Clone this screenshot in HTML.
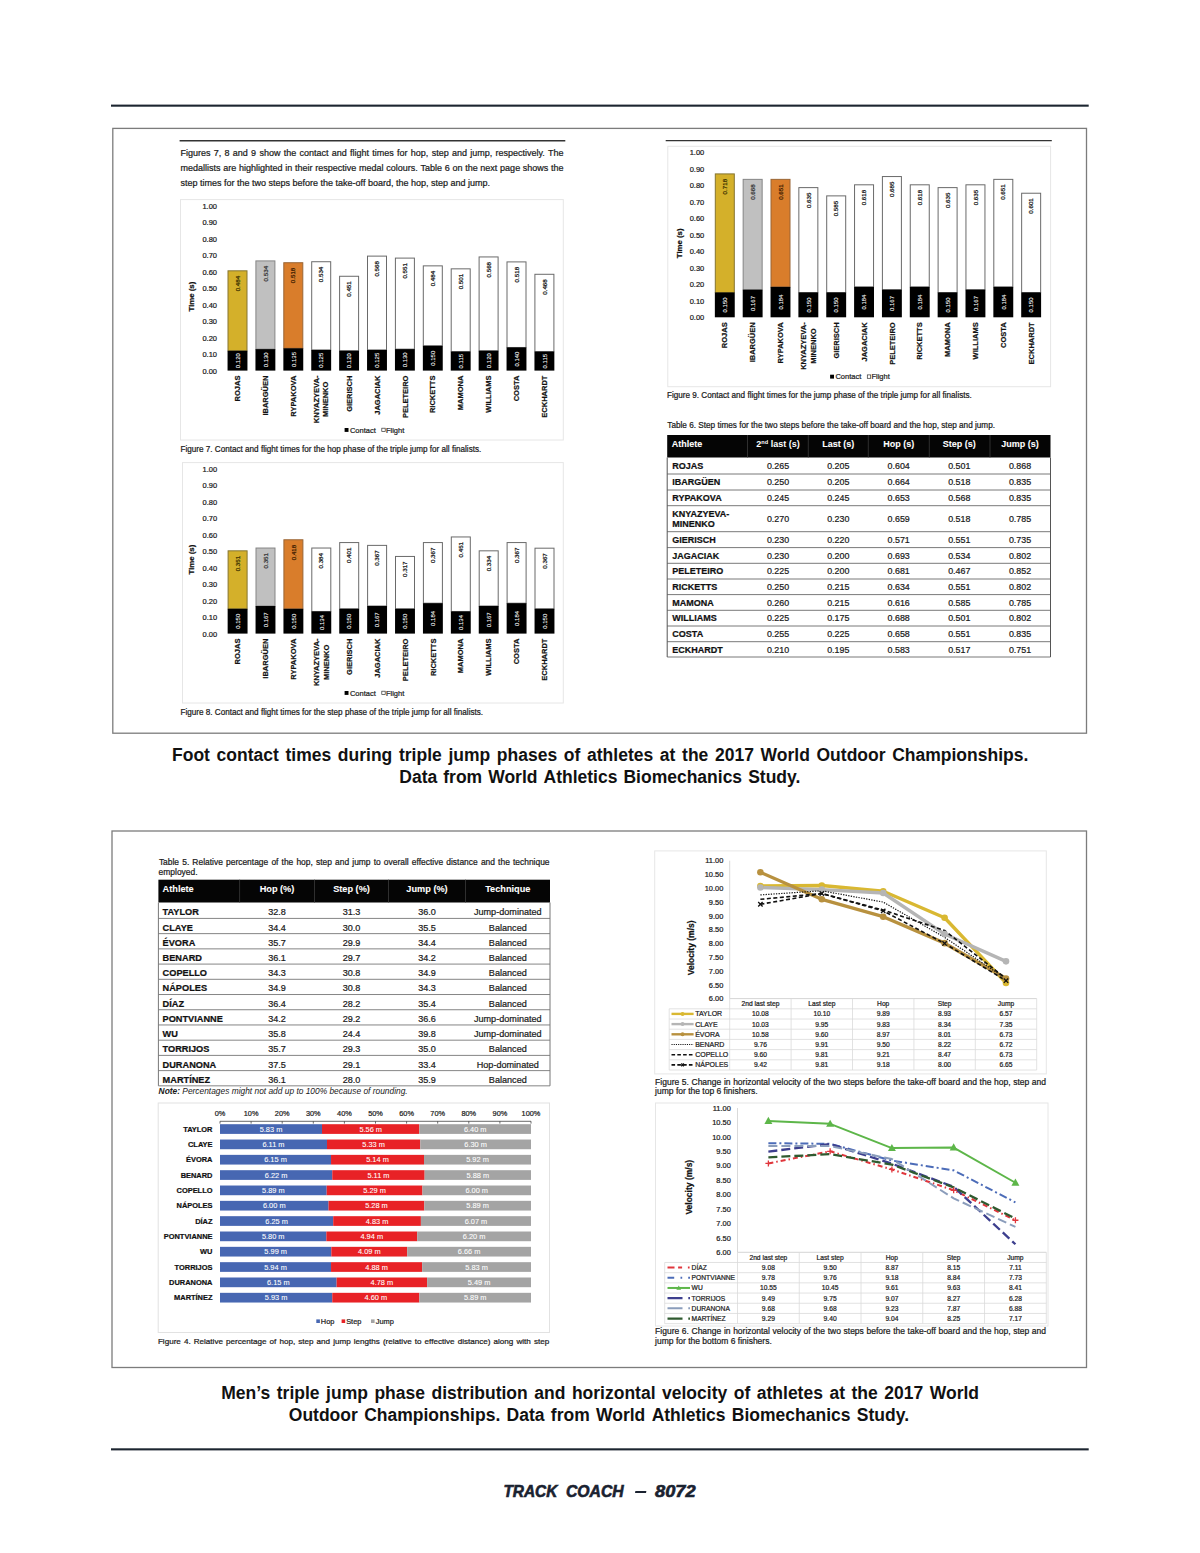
<!DOCTYPE html>
<html><head><meta charset="utf-8"><title>Track Coach 8072</title>
<style>
html,body{margin:0;padding:0;background:#fff;}
body{width:1200px;height:1553px;overflow:hidden;font-family:"Liberation Sans", sans-serif;}
svg{display:block;}
svg text{font-family:"Liberation Sans", sans-serif;}
</style></head><body>
<svg width="1200" height="1553" viewBox="0 0 1200 1553">
<rect width="1200" height="1553" fill="#fff"/>
<rect x="111.00" y="104.60" width="977.70" height="2.10" fill="#1c2530"/>
<rect x="112.80" y="128.40" width="973.70" height="604.80" fill="none" stroke="#7c7c7c" stroke-width="1.3"/>
<text y="760.80" font-size="17.5" font-weight="bold" fill="#111"><tspan x="172.00">Foot</tspan><tspan x="216.56">contact</tspan><tspan x="285.46">times</tspan><tspan x="337.85">during</tspan><tspan x="398.95">triple</tspan><tspan x="448.40">jump</tspan><tspan x="496.87">phases</tspan><tspan x="563.85">of</tspan><tspan x="587.04">athletes</tspan><tspan x="659.84">at</tspan><tspan x="682.07">the</tspan><tspan x="714.99">2017</tspan><tspan x="760.59">World</tspan><tspan x="816.51">Outdoor</tspan><tspan x="892.19">Championships.</tspan></text>
<text y="782.50" font-size="17.5" font-weight="bold" fill="#111"><tspan x="399.30">Data</tspan><tspan x="443.27">from</tspan><tspan x="488.20">World</tspan><tspan x="543.50">Athletics</tspan><tspan x="623.44">Biomechanics</tspan><tspan x="748.13">Study.</tspan></text>
<rect x="112.00" y="831.00" width="974.50" height="536.50" fill="none" stroke="#7c7c7c" stroke-width="1.3"/>
<text y="1399.30" font-size="17.5" font-weight="bold" fill="#111"><tspan x="221.30">Men’s</tspan><tspan x="276.77">triple</tspan><tspan x="326.08">jump</tspan><tspan x="374.41">phase</tspan><tspan x="431.51">distribution</tspan><tspan x="534.27">and</tspan><tspan x="571.90">horizontal</tspan><tspan x="662.03">velocity</tspan><tspan x="733.73">of</tspan><tspan x="756.77">athletes</tspan><tspan x="829.43">at</tspan><tspan x="851.52">the</tspan><tspan x="884.29">2017</tspan><tspan x="929.75">World</tspan></text>
<text y="1420.50" font-size="17.5" font-weight="bold" fill="#111"><tspan x="288.80">Outdoor</tspan><tspan x="364.13">Championships.</tspan><tspan x="506.57">Data</tspan><tspan x="550.83">from</tspan><tspan x="596.05">World</tspan><tspan x="651.63">Athletics</tspan><tspan x="731.85">Biomechanics</tspan><tspan x="856.83">Study.</tspan></text>
<rect x="111.00" y="1448.30" width="977.70" height="2.10" fill="#1c2530"/>
<text x="0" y="0" font-size="15.8" font-weight="bold" font-style="italic" fill="#1a2230" stroke="#1a2230" stroke-width="0.6" transform="translate(503.40 1496.5) scale(0.977 1)">TRACK</text>
<text x="0" y="0" font-size="15.8" font-weight="bold" font-style="italic" fill="#1a2230" stroke="#1a2230" stroke-width="0.6" transform="translate(566.00 1496.5) scale(0.998 1)">COACH</text>
<text x="0" y="0" font-size="15.8" font-weight="bold" font-style="italic" fill="#1a2230" stroke="#1a2230" stroke-width="0.6" transform="translate(655.00 1496.5) scale(1.155 1)">8072</text>
<path d="M635.4 1490.9 L646.4 1490.9 L646.0 1493.0 L635.0 1493.0 Z" fill="#1a2230"/>
<line x1="179.60" y1="140.80" x2="565.30" y2="140.80" stroke="#333" stroke-width="1.4"/>
<text y="155.70" font-size="9" fill="#1a1a1a" stroke="#1a1a1a" stroke-width="0.22"><tspan x="180.50">Figures</tspan><tspan x="213.78">7,</tspan><tspan x="224.55">8</tspan><tspan x="232.83">and</tspan><tspan x="251.11">9</tspan><tspan x="259.39">show</tspan><tspan x="283.67">the</tspan><tspan x="299.45">contact</tspan><tspan x="331.74">and</tspan><tspan x="350.02">flight</tspan><tspan x="372.30">times</tspan><tspan x="397.07">for</tspan><tspan x="410.85">hop,</tspan><tspan x="431.63">step</tspan><tspan x="451.91">and</tspan><tspan x="470.20">jump,</tspan><tspan x="495.47">respectively.</tspan><tspan x="548.09">The</tspan></text>
<text y="171.00" font-size="9" fill="#1a1a1a" stroke="#1a1a1a" stroke-width="0.22"><tspan x="180.50">medallists</tspan><tspan x="223.24">are</tspan><tspan x="238.97">highlighted</tspan><tspan x="285.23">in</tspan><tspan x="294.96">their</tspan><tspan x="315.20">respective</tspan><tspan x="358.94">medal</tspan><tspan x="386.18">colours.</tspan><tspan x="420.42">Table</tspan><tspan x="444.66">6</tspan><tspan x="452.39">on</tspan><tspan x="465.13">the</tspan><tspan x="480.37">next</tspan><tspan x="500.11">page</tspan><tspan x="522.85">shows</tspan><tspan x="551.09">the</tspan></text>
<text x="180.50" y="186.00" font-size="9" stroke="#1a1a1a" stroke-width="0.22" fill="#1a1a1a">step times for the two steps before the take-off board, the hop, step and jump.</text>
<line x1="665.70" y1="140.60" x2="1051.80" y2="140.60" stroke="#333" stroke-width="1.4"/>
<rect x="180.50" y="199.60" width="382.80" height="240.40" fill="#fff" stroke="#e6e6e6" stroke-width="1"/>
<text x="217.00" y="373.70" font-size="7.5" stroke="#1a1a1a" stroke-width="0.22" text-anchor="end" fill="#1a1a1a">0.00</text>
<text x="217.00" y="357.18" font-size="7.5" stroke="#1a1a1a" stroke-width="0.22" text-anchor="end" fill="#1a1a1a">0.10</text>
<text x="217.00" y="340.66" font-size="7.5" stroke="#1a1a1a" stroke-width="0.22" text-anchor="end" fill="#1a1a1a">0.20</text>
<text x="217.00" y="324.14" font-size="7.5" stroke="#1a1a1a" stroke-width="0.22" text-anchor="end" fill="#1a1a1a">0.30</text>
<text x="217.00" y="307.62" font-size="7.5" stroke="#1a1a1a" stroke-width="0.22" text-anchor="end" fill="#1a1a1a">0.40</text>
<text x="217.00" y="291.10" font-size="7.5" stroke="#1a1a1a" stroke-width="0.22" text-anchor="end" fill="#1a1a1a">0.50</text>
<text x="217.00" y="274.58" font-size="7.5" stroke="#1a1a1a" stroke-width="0.22" text-anchor="end" fill="#1a1a1a">0.60</text>
<text x="217.00" y="258.06" font-size="7.5" stroke="#1a1a1a" stroke-width="0.22" text-anchor="end" fill="#1a1a1a">0.70</text>
<text x="217.00" y="241.54" font-size="7.5" stroke="#1a1a1a" stroke-width="0.22" text-anchor="end" fill="#1a1a1a">0.80</text>
<text x="217.00" y="225.02" font-size="7.5" stroke="#1a1a1a" stroke-width="0.22" text-anchor="end" fill="#1a1a1a">0.90</text>
<text x="217.00" y="208.50" font-size="7.5" stroke="#1a1a1a" stroke-width="0.22" text-anchor="end" fill="#1a1a1a">1.00</text>
<text x="194.30" y="296.60" font-size="7.8" stroke="#111" stroke-width="0.22" font-weight="bold" text-anchor="middle" fill="#111" transform="rotate(-90 194.30 296.60)">Time (s)</text>
<rect x="228.00" y="270.82" width="19.00" height="79.96" fill="#d4b02a" stroke="#857530" stroke-width="1.0"/>
<rect x="227.55" y="350.78" width="19.90" height="19.82" fill="#000"/>
<text x="239.70" y="275.82" font-size="6.2" stroke="#3a3000" stroke-width="0.22" text-anchor="end" fill="#3a3000" transform="rotate(-90 239.70 275.82)">0.484</text>
<text x="239.80" y="360.69" font-size="6.0" stroke="#fff" stroke-width="0.08" text-anchor="middle" fill="#fff" transform="rotate(-90 239.80 360.69)">0.120</text>
<text x="240.20" y="375.60" font-size="7.5" stroke="#111" stroke-width="0.22" font-weight="bold" text-anchor="end" fill="#111" transform="rotate(-90 240.20 375.60)">ROJAS</text>
<rect x="255.90" y="260.91" width="19.00" height="88.22" fill="#c0c0c0" stroke="#858585" stroke-width="1.0"/>
<rect x="255.45" y="349.12" width="19.90" height="21.48" fill="#000"/>
<text x="267.60" y="265.91" font-size="6.2" stroke="#333" stroke-width="0.22" text-anchor="end" fill="#333" transform="rotate(-90 267.60 265.91)">0.534</text>
<text x="267.70" y="359.86" font-size="6.0" stroke="#fff" stroke-width="0.08" text-anchor="middle" fill="#fff" transform="rotate(-90 267.70 359.86)">0.130</text>
<text x="268.10" y="375.60" font-size="7.5" stroke="#111" stroke-width="0.22" font-weight="bold" text-anchor="end" fill="#111" transform="rotate(-90 268.10 375.60)">IBARGÜEN</text>
<rect x="283.80" y="262.72" width="19.00" height="85.57" fill="#d97d2b" stroke="#9a6535" stroke-width="1.0"/>
<rect x="283.35" y="348.30" width="19.90" height="22.30" fill="#000"/>
<text x="295.50" y="267.72" font-size="6.2" stroke="#3a1a00" stroke-width="0.22" text-anchor="end" fill="#3a1a00" transform="rotate(-90 295.50 267.72)">0.518</text>
<text x="295.60" y="359.45" font-size="6.0" stroke="#fff" stroke-width="0.08" text-anchor="middle" fill="#fff" transform="rotate(-90 295.60 359.45)">0.135</text>
<text x="296.00" y="375.60" font-size="7.5" stroke="#111" stroke-width="0.22" font-weight="bold" text-anchor="end" fill="#111" transform="rotate(-90 296.00 375.60)">RYPAKOVA</text>
<rect x="311.70" y="261.73" width="19.00" height="88.22" fill="#fff" stroke="#6a6a6a" stroke-width="1.0"/>
<rect x="311.25" y="349.95" width="19.90" height="20.65" fill="#000"/>
<text x="323.40" y="266.73" font-size="6.2" stroke="#111" stroke-width="0.22" text-anchor="end" fill="#111" transform="rotate(-90 323.40 266.73)">0.534</text>
<text x="323.50" y="360.28" font-size="6.0" stroke="#fff" stroke-width="0.08" text-anchor="middle" fill="#fff" transform="rotate(-90 323.50 360.28)">0.125</text>
<text x="319.30" y="399.36" font-size="7.5" stroke="#111" stroke-width="0.22" font-weight="bold" text-anchor="middle" fill="#111" transform="rotate(-90 319.30 399.36)">KNYAZYEVA-</text>
<text x="328.50" y="399.36" font-size="7.5" stroke="#111" stroke-width="0.22" font-weight="bold" text-anchor="middle" fill="#111" transform="rotate(-90 328.50 399.36)">MINENKO</text>
<rect x="339.60" y="276.27" width="19.00" height="74.51" fill="#fff" stroke="#6a6a6a" stroke-width="1.0"/>
<rect x="339.15" y="350.78" width="19.90" height="19.82" fill="#000"/>
<text x="351.30" y="281.27" font-size="6.2" stroke="#111" stroke-width="0.22" text-anchor="end" fill="#111" transform="rotate(-90 351.30 281.27)">0.451</text>
<text x="351.40" y="360.69" font-size="6.0" stroke="#fff" stroke-width="0.08" text-anchor="middle" fill="#fff" transform="rotate(-90 351.40 360.69)">0.120</text>
<text x="351.80" y="375.60" font-size="7.5" stroke="#111" stroke-width="0.22" font-weight="bold" text-anchor="end" fill="#111" transform="rotate(-90 351.80 375.60)">GIERISCH</text>
<rect x="367.50" y="256.12" width="19.00" height="93.83" fill="#fff" stroke="#6a6a6a" stroke-width="1.0"/>
<rect x="367.05" y="349.95" width="19.90" height="20.65" fill="#000"/>
<text x="379.20" y="261.12" font-size="6.2" stroke="#111" stroke-width="0.22" text-anchor="end" fill="#111" transform="rotate(-90 379.20 261.12)">0.568</text>
<text x="379.30" y="360.28" font-size="6.0" stroke="#fff" stroke-width="0.08" text-anchor="middle" fill="#fff" transform="rotate(-90 379.30 360.28)">0.125</text>
<text x="379.70" y="375.60" font-size="7.5" stroke="#111" stroke-width="0.22" font-weight="bold" text-anchor="end" fill="#111" transform="rotate(-90 379.70 375.60)">JAGACIAK</text>
<rect x="395.40" y="258.10" width="19.00" height="91.03" fill="#fff" stroke="#6a6a6a" stroke-width="1.0"/>
<rect x="394.95" y="349.12" width="19.90" height="21.48" fill="#000"/>
<text x="407.10" y="263.10" font-size="6.2" stroke="#111" stroke-width="0.22" text-anchor="end" fill="#111" transform="rotate(-90 407.10 263.10)">0.551</text>
<text x="407.20" y="359.86" font-size="6.0" stroke="#fff" stroke-width="0.08" text-anchor="middle" fill="#fff" transform="rotate(-90 407.20 359.86)">0.130</text>
<text x="407.60" y="375.60" font-size="7.5" stroke="#111" stroke-width="0.22" font-weight="bold" text-anchor="end" fill="#111" transform="rotate(-90 407.60 375.60)">PELETEIRO</text>
<rect x="423.30" y="265.86" width="19.00" height="79.96" fill="#fff" stroke="#6a6a6a" stroke-width="1.0"/>
<rect x="422.85" y="345.82" width="19.90" height="24.78" fill="#000"/>
<text x="435.00" y="270.86" font-size="6.2" stroke="#111" stroke-width="0.22" text-anchor="end" fill="#111" transform="rotate(-90 435.00 270.86)">0.484</text>
<text x="435.10" y="358.21" font-size="6.0" stroke="#fff" stroke-width="0.08" text-anchor="middle" fill="#fff" transform="rotate(-90 435.10 358.21)">0.150</text>
<text x="435.50" y="375.60" font-size="7.5" stroke="#111" stroke-width="0.22" font-weight="bold" text-anchor="end" fill="#111" transform="rotate(-90 435.50 375.60)">RICKETTS</text>
<rect x="451.20" y="268.84" width="19.00" height="82.77" fill="#fff" stroke="#6a6a6a" stroke-width="1.0"/>
<rect x="450.75" y="351.60" width="19.90" height="19.00" fill="#000"/>
<text x="462.90" y="273.84" font-size="6.2" stroke="#111" stroke-width="0.22" text-anchor="end" fill="#111" transform="rotate(-90 462.90 273.84)">0.501</text>
<text x="463.00" y="361.10" font-size="6.0" stroke="#fff" stroke-width="0.08" text-anchor="middle" fill="#fff" transform="rotate(-90 463.00 361.10)">0.115</text>
<text x="463.40" y="375.60" font-size="7.5" stroke="#111" stroke-width="0.22" font-weight="bold" text-anchor="end" fill="#111" transform="rotate(-90 463.40 375.60)">MAMONA</text>
<rect x="479.10" y="256.94" width="19.00" height="93.83" fill="#fff" stroke="#6a6a6a" stroke-width="1.0"/>
<rect x="478.65" y="350.78" width="19.90" height="19.82" fill="#000"/>
<text x="490.80" y="261.94" font-size="6.2" stroke="#111" stroke-width="0.22" text-anchor="end" fill="#111" transform="rotate(-90 490.80 261.94)">0.568</text>
<text x="490.90" y="360.69" font-size="6.0" stroke="#fff" stroke-width="0.08" text-anchor="middle" fill="#fff" transform="rotate(-90 490.90 360.69)">0.120</text>
<text x="491.30" y="375.60" font-size="7.5" stroke="#111" stroke-width="0.22" font-weight="bold" text-anchor="end" fill="#111" transform="rotate(-90 491.30 375.60)">WILLIAMS</text>
<rect x="507.00" y="261.90" width="19.00" height="85.57" fill="#fff" stroke="#6a6a6a" stroke-width="1.0"/>
<rect x="506.55" y="347.47" width="19.90" height="23.13" fill="#000"/>
<text x="518.70" y="266.90" font-size="6.2" stroke="#111" stroke-width="0.22" text-anchor="end" fill="#111" transform="rotate(-90 518.70 266.90)">0.518</text>
<text x="518.80" y="359.04" font-size="6.0" stroke="#fff" stroke-width="0.08" text-anchor="middle" fill="#fff" transform="rotate(-90 518.80 359.04)">0.140</text>
<text x="519.20" y="375.60" font-size="7.5" stroke="#111" stroke-width="0.22" font-weight="bold" text-anchor="end" fill="#111" transform="rotate(-90 519.20 375.60)">COSTA</text>
<rect x="534.90" y="274.29" width="19.00" height="77.31" fill="#fff" stroke="#6a6a6a" stroke-width="1.0"/>
<rect x="534.45" y="351.60" width="19.90" height="19.00" fill="#000"/>
<text x="546.60" y="279.29" font-size="6.2" stroke="#111" stroke-width="0.22" text-anchor="end" fill="#111" transform="rotate(-90 546.60 279.29)">0.468</text>
<text x="546.70" y="361.10" font-size="6.0" stroke="#fff" stroke-width="0.08" text-anchor="middle" fill="#fff" transform="rotate(-90 546.70 361.10)">0.115</text>
<text x="547.10" y="375.60" font-size="7.5" stroke="#111" stroke-width="0.22" font-weight="bold" text-anchor="end" fill="#111" transform="rotate(-90 547.10 375.60)">ECKHARDT</text>
<rect x="344.60" y="428.00" width="3.90" height="3.90" fill="#000"/>
<text x="349.90" y="432.60" font-size="7.5" stroke="#222" stroke-width="0.22" fill="#222">Contact</text>
<rect x="381.80" y="428.20" width="3.40" height="3.40" fill="#fff" stroke="#333" stroke-width="0.7"/>
<text x="385.90" y="432.60" font-size="7.5" stroke="#222" stroke-width="0.22" fill="#222">Flight</text>
<text x="180.50" y="451.60" font-size="8.15" stroke="#1a1a1a" stroke-width="0.22" fill="#1a1a1a">Figure 7. Contact and flight times for the hop phase of the triple jump for all finalists.</text>
<rect x="182.50" y="462.60" width="380.80" height="240.40" fill="#fff" stroke="#e6e6e6" stroke-width="1"/>
<text x="217.10" y="636.70" font-size="7.5" stroke="#1a1a1a" stroke-width="0.22" text-anchor="end" fill="#1a1a1a">0.00</text>
<text x="217.10" y="620.18" font-size="7.5" stroke="#1a1a1a" stroke-width="0.22" text-anchor="end" fill="#1a1a1a">0.10</text>
<text x="217.10" y="603.66" font-size="7.5" stroke="#1a1a1a" stroke-width="0.22" text-anchor="end" fill="#1a1a1a">0.20</text>
<text x="217.10" y="587.14" font-size="7.5" stroke="#1a1a1a" stroke-width="0.22" text-anchor="end" fill="#1a1a1a">0.30</text>
<text x="217.10" y="570.62" font-size="7.5" stroke="#1a1a1a" stroke-width="0.22" text-anchor="end" fill="#1a1a1a">0.40</text>
<text x="217.10" y="554.10" font-size="7.5" stroke="#1a1a1a" stroke-width="0.22" text-anchor="end" fill="#1a1a1a">0.50</text>
<text x="217.10" y="537.58" font-size="7.5" stroke="#1a1a1a" stroke-width="0.22" text-anchor="end" fill="#1a1a1a">0.60</text>
<text x="217.10" y="521.06" font-size="7.5" stroke="#1a1a1a" stroke-width="0.22" text-anchor="end" fill="#1a1a1a">0.70</text>
<text x="217.10" y="504.54" font-size="7.5" stroke="#1a1a1a" stroke-width="0.22" text-anchor="end" fill="#1a1a1a">0.80</text>
<text x="217.10" y="488.02" font-size="7.5" stroke="#1a1a1a" stroke-width="0.22" text-anchor="end" fill="#1a1a1a">0.90</text>
<text x="217.10" y="471.50" font-size="7.5" stroke="#1a1a1a" stroke-width="0.22" text-anchor="end" fill="#1a1a1a">1.00</text>
<text x="194.40" y="559.60" font-size="7.8" stroke="#111" stroke-width="0.22" font-weight="bold" text-anchor="middle" fill="#111" transform="rotate(-90 194.40 559.60)">Time (s)</text>
<rect x="228.10" y="550.83" width="19.00" height="57.99" fill="#d4b02a" stroke="#857530" stroke-width="1.0"/>
<rect x="227.65" y="608.82" width="19.90" height="24.78" fill="#000"/>
<text x="239.80" y="555.83" font-size="6.2" stroke="#3a3000" stroke-width="0.22" text-anchor="end" fill="#3a3000" transform="rotate(-90 239.80 555.83)">0.351</text>
<text x="239.90" y="621.21" font-size="6.0" stroke="#fff" stroke-width="0.08" text-anchor="middle" fill="#fff" transform="rotate(-90 239.90 621.21)">0.150</text>
<text x="240.30" y="638.60" font-size="7.5" stroke="#111" stroke-width="0.22" font-weight="bold" text-anchor="end" fill="#111" transform="rotate(-90 240.30 638.60)">ROJAS</text>
<rect x="256.00" y="548.03" width="19.00" height="57.99" fill="#c0c0c0" stroke="#858585" stroke-width="1.0"/>
<rect x="255.55" y="606.01" width="19.90" height="27.59" fill="#000"/>
<text x="267.70" y="553.03" font-size="6.2" stroke="#333" stroke-width="0.22" text-anchor="end" fill="#333" transform="rotate(-90 267.70 553.03)">0.351</text>
<text x="267.80" y="619.81" font-size="6.0" stroke="#fff" stroke-width="0.08" text-anchor="middle" fill="#fff" transform="rotate(-90 267.80 619.81)">0.167</text>
<text x="268.20" y="638.60" font-size="7.5" stroke="#111" stroke-width="0.22" font-weight="bold" text-anchor="end" fill="#111" transform="rotate(-90 268.20 638.60)">IBARGÜEN</text>
<rect x="283.90" y="539.77" width="19.00" height="69.05" fill="#d97d2b" stroke="#9a6535" stroke-width="1.0"/>
<rect x="283.45" y="608.82" width="19.90" height="24.78" fill="#000"/>
<text x="295.60" y="544.77" font-size="6.2" stroke="#3a1a00" stroke-width="0.22" text-anchor="end" fill="#3a1a00" transform="rotate(-90 295.60 544.77)">0.418</text>
<text x="295.70" y="621.21" font-size="6.0" stroke="#fff" stroke-width="0.08" text-anchor="middle" fill="#fff" transform="rotate(-90 295.70 621.21)">0.150</text>
<text x="296.10" y="638.60" font-size="7.5" stroke="#111" stroke-width="0.22" font-weight="bold" text-anchor="end" fill="#111" transform="rotate(-90 296.10 638.60)">RYPAKOVA</text>
<rect x="311.80" y="548.03" width="19.00" height="63.44" fill="#fff" stroke="#6a6a6a" stroke-width="1.0"/>
<rect x="311.35" y="611.46" width="19.90" height="22.14" fill="#000"/>
<text x="323.50" y="553.03" font-size="6.2" stroke="#111" stroke-width="0.22" text-anchor="end" fill="#111" transform="rotate(-90 323.50 553.03)">0.384</text>
<text x="323.60" y="622.53" font-size="6.0" stroke="#fff" stroke-width="0.08" text-anchor="middle" fill="#fff" transform="rotate(-90 323.60 622.53)">0.134</text>
<text x="319.40" y="662.36" font-size="7.5" stroke="#111" stroke-width="0.22" font-weight="bold" text-anchor="middle" fill="#111" transform="rotate(-90 319.40 662.36)">KNYAZYEVA-</text>
<text x="328.60" y="662.36" font-size="7.5" stroke="#111" stroke-width="0.22" font-weight="bold" text-anchor="middle" fill="#111" transform="rotate(-90 328.60 662.36)">MINENKO</text>
<rect x="339.70" y="542.57" width="19.00" height="66.25" fill="#fff" stroke="#6a6a6a" stroke-width="1.0"/>
<rect x="339.25" y="608.82" width="19.90" height="24.78" fill="#000"/>
<text x="351.40" y="547.57" font-size="6.2" stroke="#111" stroke-width="0.22" text-anchor="end" fill="#111" transform="rotate(-90 351.40 547.57)">0.401</text>
<text x="351.50" y="621.21" font-size="6.0" stroke="#fff" stroke-width="0.08" text-anchor="middle" fill="#fff" transform="rotate(-90 351.50 621.21)">0.150</text>
<text x="351.90" y="638.60" font-size="7.5" stroke="#111" stroke-width="0.22" font-weight="bold" text-anchor="end" fill="#111" transform="rotate(-90 351.90 638.60)">GIERISCH</text>
<rect x="367.60" y="545.38" width="19.00" height="60.63" fill="#fff" stroke="#6a6a6a" stroke-width="1.0"/>
<rect x="367.15" y="606.01" width="19.90" height="27.59" fill="#000"/>
<text x="379.30" y="550.38" font-size="6.2" stroke="#111" stroke-width="0.22" text-anchor="end" fill="#111" transform="rotate(-90 379.30 550.38)">0.367</text>
<text x="379.40" y="619.81" font-size="6.0" stroke="#fff" stroke-width="0.08" text-anchor="middle" fill="#fff" transform="rotate(-90 379.40 619.81)">0.167</text>
<text x="379.80" y="638.60" font-size="7.5" stroke="#111" stroke-width="0.22" font-weight="bold" text-anchor="end" fill="#111" transform="rotate(-90 379.80 638.60)">JAGACIAK</text>
<rect x="395.50" y="556.45" width="19.00" height="52.37" fill="#fff" stroke="#6a6a6a" stroke-width="1.0"/>
<rect x="395.05" y="608.82" width="19.90" height="24.78" fill="#000"/>
<text x="407.20" y="561.45" font-size="6.2" stroke="#111" stroke-width="0.22" text-anchor="end" fill="#111" transform="rotate(-90 407.20 561.45)">0.317</text>
<text x="407.30" y="621.21" font-size="6.0" stroke="#fff" stroke-width="0.08" text-anchor="middle" fill="#fff" transform="rotate(-90 407.30 621.21)">0.150</text>
<text x="407.70" y="638.60" font-size="7.5" stroke="#111" stroke-width="0.22" font-weight="bold" text-anchor="end" fill="#111" transform="rotate(-90 407.70 638.60)">PELETEIRO</text>
<rect x="423.40" y="542.57" width="19.00" height="60.63" fill="#fff" stroke="#6a6a6a" stroke-width="1.0"/>
<rect x="422.95" y="603.20" width="19.90" height="30.40" fill="#000"/>
<text x="435.10" y="547.57" font-size="6.2" stroke="#111" stroke-width="0.22" text-anchor="end" fill="#111" transform="rotate(-90 435.10 547.57)">0.367</text>
<text x="435.20" y="618.40" font-size="6.0" stroke="#fff" stroke-width="0.08" text-anchor="middle" fill="#fff" transform="rotate(-90 435.20 618.40)">0.184</text>
<text x="435.60" y="638.60" font-size="7.5" stroke="#111" stroke-width="0.22" font-weight="bold" text-anchor="end" fill="#111" transform="rotate(-90 435.60 638.60)">RICKETTS</text>
<rect x="451.30" y="536.96" width="19.00" height="74.51" fill="#fff" stroke="#6a6a6a" stroke-width="1.0"/>
<rect x="450.85" y="611.46" width="19.90" height="22.14" fill="#000"/>
<text x="463.00" y="541.96" font-size="6.2" stroke="#111" stroke-width="0.22" text-anchor="end" fill="#111" transform="rotate(-90 463.00 541.96)">0.451</text>
<text x="463.10" y="622.53" font-size="6.0" stroke="#fff" stroke-width="0.08" text-anchor="middle" fill="#fff" transform="rotate(-90 463.10 622.53)">0.134</text>
<text x="463.50" y="638.60" font-size="7.5" stroke="#111" stroke-width="0.22" font-weight="bold" text-anchor="end" fill="#111" transform="rotate(-90 463.50 638.60)">MAMONA</text>
<rect x="479.20" y="550.83" width="19.00" height="55.18" fill="#fff" stroke="#6a6a6a" stroke-width="1.0"/>
<rect x="478.75" y="606.01" width="19.90" height="27.59" fill="#000"/>
<text x="490.90" y="555.83" font-size="6.2" stroke="#111" stroke-width="0.22" text-anchor="end" fill="#111" transform="rotate(-90 490.90 555.83)">0.334</text>
<text x="491.00" y="619.81" font-size="6.0" stroke="#fff" stroke-width="0.08" text-anchor="middle" fill="#fff" transform="rotate(-90 491.00 619.81)">0.167</text>
<text x="491.40" y="638.60" font-size="7.5" stroke="#111" stroke-width="0.22" font-weight="bold" text-anchor="end" fill="#111" transform="rotate(-90 491.40 638.60)">WILLIAMS</text>
<rect x="507.10" y="542.57" width="19.00" height="60.63" fill="#fff" stroke="#6a6a6a" stroke-width="1.0"/>
<rect x="506.65" y="603.20" width="19.90" height="30.40" fill="#000"/>
<text x="518.80" y="547.57" font-size="6.2" stroke="#111" stroke-width="0.22" text-anchor="end" fill="#111" transform="rotate(-90 518.80 547.57)">0.367</text>
<text x="518.90" y="618.40" font-size="6.0" stroke="#fff" stroke-width="0.08" text-anchor="middle" fill="#fff" transform="rotate(-90 518.90 618.40)">0.184</text>
<text x="519.30" y="638.60" font-size="7.5" stroke="#111" stroke-width="0.22" font-weight="bold" text-anchor="end" fill="#111" transform="rotate(-90 519.30 638.60)">COSTA</text>
<rect x="535.00" y="548.19" width="19.00" height="60.63" fill="#fff" stroke="#6a6a6a" stroke-width="1.0"/>
<rect x="534.55" y="608.82" width="19.90" height="24.78" fill="#000"/>
<text x="546.70" y="553.19" font-size="6.2" stroke="#111" stroke-width="0.22" text-anchor="end" fill="#111" transform="rotate(-90 546.70 553.19)">0.367</text>
<text x="546.80" y="621.21" font-size="6.0" stroke="#fff" stroke-width="0.08" text-anchor="middle" fill="#fff" transform="rotate(-90 546.80 621.21)">0.150</text>
<text x="547.20" y="638.60" font-size="7.5" stroke="#111" stroke-width="0.22" font-weight="bold" text-anchor="end" fill="#111" transform="rotate(-90 547.20 638.60)">ECKHARDT</text>
<rect x="344.60" y="691.00" width="3.90" height="3.90" fill="#000"/>
<text x="349.90" y="695.60" font-size="7.5" stroke="#222" stroke-width="0.22" fill="#222">Contact</text>
<rect x="381.80" y="691.20" width="3.40" height="3.40" fill="#fff" stroke="#333" stroke-width="0.7"/>
<text x="385.90" y="695.60" font-size="7.5" stroke="#222" stroke-width="0.22" fill="#222">Flight</text>
<text x="180.50" y="714.60" font-size="8.15" stroke="#1a1a1a" stroke-width="0.22" fill="#1a1a1a">Figure 8. Contact and flight times for the step phase of the triple jump for all finalists.</text>
<rect x="667.80" y="146.30" width="382.80" height="240.40" fill="#fff" stroke="#e6e6e6" stroke-width="1"/>
<text x="704.30" y="320.40" font-size="7.5" stroke="#1a1a1a" stroke-width="0.22" text-anchor="end" fill="#1a1a1a">0.00</text>
<text x="704.30" y="303.88" font-size="7.5" stroke="#1a1a1a" stroke-width="0.22" text-anchor="end" fill="#1a1a1a">0.10</text>
<text x="704.30" y="287.36" font-size="7.5" stroke="#1a1a1a" stroke-width="0.22" text-anchor="end" fill="#1a1a1a">0.20</text>
<text x="704.30" y="270.84" font-size="7.5" stroke="#1a1a1a" stroke-width="0.22" text-anchor="end" fill="#1a1a1a">0.30</text>
<text x="704.30" y="254.32" font-size="7.5" stroke="#1a1a1a" stroke-width="0.22" text-anchor="end" fill="#1a1a1a">0.40</text>
<text x="704.30" y="237.80" font-size="7.5" stroke="#1a1a1a" stroke-width="0.22" text-anchor="end" fill="#1a1a1a">0.50</text>
<text x="704.30" y="221.28" font-size="7.5" stroke="#1a1a1a" stroke-width="0.22" text-anchor="end" fill="#1a1a1a">0.60</text>
<text x="704.30" y="204.76" font-size="7.5" stroke="#1a1a1a" stroke-width="0.22" text-anchor="end" fill="#1a1a1a">0.70</text>
<text x="704.30" y="188.24" font-size="7.5" stroke="#1a1a1a" stroke-width="0.22" text-anchor="end" fill="#1a1a1a">0.80</text>
<text x="704.30" y="171.72" font-size="7.5" stroke="#1a1a1a" stroke-width="0.22" text-anchor="end" fill="#1a1a1a">0.90</text>
<text x="704.30" y="155.20" font-size="7.5" stroke="#1a1a1a" stroke-width="0.22" text-anchor="end" fill="#1a1a1a">1.00</text>
<text x="681.60" y="243.30" font-size="7.8" stroke="#111" stroke-width="0.22" font-weight="bold" text-anchor="middle" fill="#111" transform="rotate(-90 681.60 243.30)">Time (s)</text>
<rect x="715.30" y="173.91" width="19.00" height="118.61" fill="#d4b02a" stroke="#857530" stroke-width="1.0"/>
<rect x="714.85" y="292.52" width="19.90" height="24.78" fill="#000"/>
<text x="727.00" y="178.91" font-size="6.2" stroke="#3a3000" stroke-width="0.22" text-anchor="end" fill="#3a3000" transform="rotate(-90 727.00 178.91)">0.718</text>
<text x="727.10" y="304.91" font-size="6.0" stroke="#fff" stroke-width="0.08" text-anchor="middle" fill="#fff" transform="rotate(-90 727.10 304.91)">0.150</text>
<text x="727.50" y="322.30" font-size="7.5" stroke="#111" stroke-width="0.22" font-weight="bold" text-anchor="end" fill="#111" transform="rotate(-90 727.50 322.30)">ROJAS</text>
<rect x="743.15" y="179.36" width="19.00" height="110.35" fill="#c0c0c0" stroke="#858585" stroke-width="1.0"/>
<rect x="742.70" y="289.71" width="19.90" height="27.59" fill="#000"/>
<text x="754.85" y="184.36" font-size="6.2" stroke="#333" stroke-width="0.22" text-anchor="end" fill="#333" transform="rotate(-90 754.85 184.36)">0.668</text>
<text x="754.95" y="303.51" font-size="6.0" stroke="#fff" stroke-width="0.08" text-anchor="middle" fill="#fff" transform="rotate(-90 754.95 303.51)">0.167</text>
<text x="755.35" y="322.30" font-size="7.5" stroke="#111" stroke-width="0.22" font-weight="bold" text-anchor="end" fill="#111" transform="rotate(-90 755.35 322.30)">IBARGÜEN</text>
<rect x="771.00" y="179.36" width="19.00" height="107.55" fill="#d97d2b" stroke="#9a6535" stroke-width="1.0"/>
<rect x="770.55" y="286.90" width="19.90" height="30.40" fill="#000"/>
<text x="782.70" y="184.36" font-size="6.2" stroke="#3a1a00" stroke-width="0.22" text-anchor="end" fill="#3a1a00" transform="rotate(-90 782.70 184.36)">0.651</text>
<text x="782.80" y="302.10" font-size="6.0" stroke="#fff" stroke-width="0.08" text-anchor="middle" fill="#fff" transform="rotate(-90 782.80 302.10)">0.184</text>
<text x="783.20" y="322.30" font-size="7.5" stroke="#111" stroke-width="0.22" font-weight="bold" text-anchor="end" fill="#111" transform="rotate(-90 783.20 322.30)">RYPAKOVA</text>
<rect x="798.85" y="187.62" width="19.00" height="104.90" fill="#fff" stroke="#6a6a6a" stroke-width="1.0"/>
<rect x="798.40" y="292.52" width="19.90" height="24.78" fill="#000"/>
<text x="810.55" y="192.62" font-size="6.2" stroke="#111" stroke-width="0.22" text-anchor="end" fill="#111" transform="rotate(-90 810.55 192.62)">0.635</text>
<text x="810.65" y="304.91" font-size="6.0" stroke="#fff" stroke-width="0.08" text-anchor="middle" fill="#fff" transform="rotate(-90 810.65 304.91)">0.150</text>
<text x="806.45" y="346.06" font-size="7.5" stroke="#111" stroke-width="0.22" font-weight="bold" text-anchor="middle" fill="#111" transform="rotate(-90 806.45 346.06)">KNYAZYEVA-</text>
<text x="815.65" y="346.06" font-size="7.5" stroke="#111" stroke-width="0.22" font-weight="bold" text-anchor="middle" fill="#111" transform="rotate(-90 815.65 346.06)">MINENKO</text>
<rect x="826.70" y="195.88" width="19.00" height="96.64" fill="#fff" stroke="#6a6a6a" stroke-width="1.0"/>
<rect x="826.25" y="292.52" width="19.90" height="24.78" fill="#000"/>
<text x="838.40" y="200.88" font-size="6.2" stroke="#111" stroke-width="0.22" text-anchor="end" fill="#111" transform="rotate(-90 838.40 200.88)">0.585</text>
<text x="838.50" y="304.91" font-size="6.0" stroke="#fff" stroke-width="0.08" text-anchor="middle" fill="#fff" transform="rotate(-90 838.50 304.91)">0.150</text>
<text x="838.90" y="322.30" font-size="7.5" stroke="#111" stroke-width="0.22" font-weight="bold" text-anchor="end" fill="#111" transform="rotate(-90 838.90 322.30)">GIERISCH</text>
<rect x="854.55" y="184.81" width="19.00" height="102.09" fill="#fff" stroke="#6a6a6a" stroke-width="1.0"/>
<rect x="854.10" y="286.90" width="19.90" height="30.40" fill="#000"/>
<text x="866.25" y="189.81" font-size="6.2" stroke="#111" stroke-width="0.22" text-anchor="end" fill="#111" transform="rotate(-90 866.25 189.81)">0.618</text>
<text x="866.35" y="302.10" font-size="6.0" stroke="#fff" stroke-width="0.08" text-anchor="middle" fill="#fff" transform="rotate(-90 866.35 302.10)">0.184</text>
<text x="866.75" y="322.30" font-size="7.5" stroke="#111" stroke-width="0.22" font-weight="bold" text-anchor="end" fill="#111" transform="rotate(-90 866.75 322.30)">JAGACIAK</text>
<rect x="882.40" y="176.55" width="19.00" height="113.16" fill="#fff" stroke="#6a6a6a" stroke-width="1.0"/>
<rect x="881.95" y="289.71" width="19.90" height="27.59" fill="#000"/>
<text x="894.10" y="181.55" font-size="6.2" stroke="#111" stroke-width="0.22" text-anchor="end" fill="#111" transform="rotate(-90 894.10 181.55)">0.685</text>
<text x="894.20" y="303.51" font-size="6.0" stroke="#fff" stroke-width="0.08" text-anchor="middle" fill="#fff" transform="rotate(-90 894.20 303.51)">0.167</text>
<text x="894.60" y="322.30" font-size="7.5" stroke="#111" stroke-width="0.22" font-weight="bold" text-anchor="end" fill="#111" transform="rotate(-90 894.60 322.30)">PELETEIRO</text>
<rect x="910.25" y="184.81" width="19.00" height="102.09" fill="#fff" stroke="#6a6a6a" stroke-width="1.0"/>
<rect x="909.80" y="286.90" width="19.90" height="30.40" fill="#000"/>
<text x="921.95" y="189.81" font-size="6.2" stroke="#111" stroke-width="0.22" text-anchor="end" fill="#111" transform="rotate(-90 921.95 189.81)">0.618</text>
<text x="922.05" y="302.10" font-size="6.0" stroke="#fff" stroke-width="0.08" text-anchor="middle" fill="#fff" transform="rotate(-90 922.05 302.10)">0.184</text>
<text x="922.45" y="322.30" font-size="7.5" stroke="#111" stroke-width="0.22" font-weight="bold" text-anchor="end" fill="#111" transform="rotate(-90 922.45 322.30)">RICKETTS</text>
<rect x="938.10" y="187.62" width="19.00" height="104.90" fill="#fff" stroke="#6a6a6a" stroke-width="1.0"/>
<rect x="937.65" y="292.52" width="19.90" height="24.78" fill="#000"/>
<text x="949.80" y="192.62" font-size="6.2" stroke="#111" stroke-width="0.22" text-anchor="end" fill="#111" transform="rotate(-90 949.80 192.62)">0.635</text>
<text x="949.90" y="304.91" font-size="6.0" stroke="#fff" stroke-width="0.08" text-anchor="middle" fill="#fff" transform="rotate(-90 949.90 304.91)">0.150</text>
<text x="950.30" y="322.30" font-size="7.5" stroke="#111" stroke-width="0.22" font-weight="bold" text-anchor="end" fill="#111" transform="rotate(-90 950.30 322.30)">MAMONA</text>
<rect x="965.95" y="184.81" width="19.00" height="104.90" fill="#fff" stroke="#6a6a6a" stroke-width="1.0"/>
<rect x="965.50" y="289.71" width="19.90" height="27.59" fill="#000"/>
<text x="977.65" y="189.81" font-size="6.2" stroke="#111" stroke-width="0.22" text-anchor="end" fill="#111" transform="rotate(-90 977.65 189.81)">0.635</text>
<text x="977.75" y="303.51" font-size="6.0" stroke="#fff" stroke-width="0.08" text-anchor="middle" fill="#fff" transform="rotate(-90 977.75 303.51)">0.167</text>
<text x="978.15" y="322.30" font-size="7.5" stroke="#111" stroke-width="0.22" font-weight="bold" text-anchor="end" fill="#111" transform="rotate(-90 978.15 322.30)">WILLIAMS</text>
<rect x="993.80" y="179.36" width="19.00" height="107.55" fill="#fff" stroke="#6a6a6a" stroke-width="1.0"/>
<rect x="993.35" y="286.90" width="19.90" height="30.40" fill="#000"/>
<text x="1005.50" y="184.36" font-size="6.2" stroke="#111" stroke-width="0.22" text-anchor="end" fill="#111" transform="rotate(-90 1005.50 184.36)">0.651</text>
<text x="1005.60" y="302.10" font-size="6.0" stroke="#fff" stroke-width="0.08" text-anchor="middle" fill="#fff" transform="rotate(-90 1005.60 302.10)">0.184</text>
<text x="1006.00" y="322.30" font-size="7.5" stroke="#111" stroke-width="0.22" font-weight="bold" text-anchor="end" fill="#111" transform="rotate(-90 1006.00 322.30)">COSTA</text>
<rect x="1021.65" y="193.23" width="19.00" height="99.29" fill="#fff" stroke="#6a6a6a" stroke-width="1.0"/>
<rect x="1021.20" y="292.52" width="19.90" height="24.78" fill="#000"/>
<text x="1033.35" y="198.23" font-size="6.2" stroke="#111" stroke-width="0.22" text-anchor="end" fill="#111" transform="rotate(-90 1033.35 198.23)">0.601</text>
<text x="1033.45" y="304.91" font-size="6.0" stroke="#fff" stroke-width="0.08" text-anchor="middle" fill="#fff" transform="rotate(-90 1033.45 304.91)">0.150</text>
<text x="1033.85" y="322.30" font-size="7.5" stroke="#111" stroke-width="0.22" font-weight="bold" text-anchor="end" fill="#111" transform="rotate(-90 1033.85 322.30)">ECKHARDT</text>
<rect x="830.10" y="374.70" width="3.90" height="3.90" fill="#000"/>
<text x="835.40" y="379.30" font-size="7.5" stroke="#222" stroke-width="0.22" fill="#222">Contact</text>
<rect x="867.30" y="374.90" width="3.40" height="3.40" fill="#fff" stroke="#333" stroke-width="0.7"/>
<text x="871.40" y="379.30" font-size="7.5" stroke="#222" stroke-width="0.22" fill="#222">Flight</text>
<text x="667.00" y="398.30" font-size="8.15" stroke="#1a1a1a" stroke-width="0.22" fill="#1a1a1a">Figure 9. Contact and flight times for the jump phase of the triple jump for all finalists.</text>
<text x="667.30" y="428.20" font-size="8.2" stroke="#1a1a1a" stroke-width="0.22" fill="#1a1a1a" textLength="327.70" lengthAdjust="spacing">Table 6. Step times for the two steps before the take-off board and the hop, step and jump.</text>
<rect x="667.20" y="435.00" width="383.30" height="22.50" fill="#050505"/>
<line x1="747.50" y1="435.00" x2="747.50" y2="457.50" stroke="#3a3a3a" stroke-width="0.8"/>
<line x1="808.30" y1="435.00" x2="808.30" y2="457.50" stroke="#3a3a3a" stroke-width="0.8"/>
<line x1="868.30" y1="435.00" x2="868.30" y2="457.50" stroke="#3a3a3a" stroke-width="0.8"/>
<line x1="929.30" y1="435.00" x2="929.30" y2="457.50" stroke="#3a3a3a" stroke-width="0.8"/>
<line x1="990.00" y1="435.00" x2="990.00" y2="457.50" stroke="#3a3a3a" stroke-width="0.8"/>
<text x="671.70" y="446.90" font-size="9" stroke="#fff" stroke-width="0.08" font-weight="bold" fill="#fff">Athlete</text>
<text x="778.00" y="446.9" font-size="9" font-weight="bold" fill="#fff" text-anchor="middle">2<tspan font-size="5.6" dy="-3">nd</tspan><tspan dy="3"> last (s)</tspan></text>
<text x="838.30" y="446.90" font-size="9" stroke="#fff" stroke-width="0.08" font-weight="bold" text-anchor="middle" fill="#fff">Last (s)</text>
<text x="898.70" y="446.90" font-size="9" stroke="#fff" stroke-width="0.08" font-weight="bold" text-anchor="middle" fill="#fff">Hop (s)</text>
<text x="959.30" y="446.90" font-size="9" stroke="#fff" stroke-width="0.08" font-weight="bold" text-anchor="middle" fill="#fff">Step (s)</text>
<text x="1020.00" y="446.90" font-size="9" stroke="#fff" stroke-width="0.08" font-weight="bold" text-anchor="middle" fill="#fff">Jump (s)</text>
<text x="672.30" y="469.05" font-size="9" stroke="#111" stroke-width="0.22" font-weight="bold" fill="#111">ROJAS</text>
<text x="778.00" y="469.05" font-size="8.9" stroke="#1a1a1a" stroke-width="0.22" text-anchor="middle" fill="#1a1a1a">0.265</text>
<text x="838.30" y="469.05" font-size="8.9" stroke="#1a1a1a" stroke-width="0.22" text-anchor="middle" fill="#1a1a1a">0.205</text>
<text x="898.70" y="469.05" font-size="8.9" stroke="#1a1a1a" stroke-width="0.22" text-anchor="middle" fill="#1a1a1a">0.604</text>
<text x="959.30" y="469.05" font-size="8.9" stroke="#1a1a1a" stroke-width="0.22" text-anchor="middle" fill="#1a1a1a">0.501</text>
<text x="1020.00" y="469.05" font-size="8.9" stroke="#1a1a1a" stroke-width="0.22" text-anchor="middle" fill="#1a1a1a">0.868</text>
<line x1="667.20" y1="474.00" x2="1050.50" y2="474.00" stroke="#6a6a6a" stroke-width="0.9"/>
<text x="672.30" y="485.30" font-size="9" stroke="#111" stroke-width="0.22" font-weight="bold" fill="#111">IBARGÜEN</text>
<text x="778.00" y="485.30" font-size="8.9" stroke="#1a1a1a" stroke-width="0.22" text-anchor="middle" fill="#1a1a1a">0.250</text>
<text x="838.30" y="485.30" font-size="8.9" stroke="#1a1a1a" stroke-width="0.22" text-anchor="middle" fill="#1a1a1a">0.205</text>
<text x="898.70" y="485.30" font-size="8.9" stroke="#1a1a1a" stroke-width="0.22" text-anchor="middle" fill="#1a1a1a">0.664</text>
<text x="959.30" y="485.30" font-size="8.9" stroke="#1a1a1a" stroke-width="0.22" text-anchor="middle" fill="#1a1a1a">0.518</text>
<text x="1020.00" y="485.30" font-size="8.9" stroke="#1a1a1a" stroke-width="0.22" text-anchor="middle" fill="#1a1a1a">0.835</text>
<line x1="667.20" y1="490.00" x2="1050.50" y2="490.00" stroke="#6a6a6a" stroke-width="0.9"/>
<text x="672.30" y="501.15" font-size="9" stroke="#111" stroke-width="0.22" font-weight="bold" fill="#111">RYPAKOVA</text>
<text x="778.00" y="501.15" font-size="8.9" stroke="#1a1a1a" stroke-width="0.22" text-anchor="middle" fill="#1a1a1a">0.245</text>
<text x="838.30" y="501.15" font-size="8.9" stroke="#1a1a1a" stroke-width="0.22" text-anchor="middle" fill="#1a1a1a">0.245</text>
<text x="898.70" y="501.15" font-size="8.9" stroke="#1a1a1a" stroke-width="0.22" text-anchor="middle" fill="#1a1a1a">0.653</text>
<text x="959.30" y="501.15" font-size="8.9" stroke="#1a1a1a" stroke-width="0.22" text-anchor="middle" fill="#1a1a1a">0.568</text>
<text x="1020.00" y="501.15" font-size="8.9" stroke="#1a1a1a" stroke-width="0.22" text-anchor="middle" fill="#1a1a1a">0.835</text>
<line x1="667.20" y1="505.70" x2="1050.50" y2="505.70" stroke="#6a6a6a" stroke-width="0.9"/>
<text x="672.30" y="517.10" font-size="9" stroke="#111" stroke-width="0.22" font-weight="bold" fill="#111">KNYAZYEVA-</text>
<text x="672.30" y="527.30" font-size="9" stroke="#111" stroke-width="0.22" font-weight="bold" fill="#111">MINENKO</text>
<text x="778.00" y="522.00" font-size="8.9" stroke="#1a1a1a" stroke-width="0.22" text-anchor="middle" fill="#1a1a1a">0.270</text>
<text x="838.30" y="522.00" font-size="8.9" stroke="#1a1a1a" stroke-width="0.22" text-anchor="middle" fill="#1a1a1a">0.230</text>
<text x="898.70" y="522.00" font-size="8.9" stroke="#1a1a1a" stroke-width="0.22" text-anchor="middle" fill="#1a1a1a">0.659</text>
<text x="959.30" y="522.00" font-size="8.9" stroke="#1a1a1a" stroke-width="0.22" text-anchor="middle" fill="#1a1a1a">0.518</text>
<text x="1020.00" y="522.00" font-size="8.9" stroke="#1a1a1a" stroke-width="0.22" text-anchor="middle" fill="#1a1a1a">0.785</text>
<line x1="667.20" y1="531.70" x2="1050.50" y2="531.70" stroke="#6a6a6a" stroke-width="0.9"/>
<text x="672.30" y="542.95" font-size="9" stroke="#111" stroke-width="0.22" font-weight="bold" fill="#111">GIERISCH</text>
<text x="778.00" y="542.95" font-size="8.9" stroke="#1a1a1a" stroke-width="0.22" text-anchor="middle" fill="#1a1a1a">0.230</text>
<text x="838.30" y="542.95" font-size="8.9" stroke="#1a1a1a" stroke-width="0.22" text-anchor="middle" fill="#1a1a1a">0.220</text>
<text x="898.70" y="542.95" font-size="8.9" stroke="#1a1a1a" stroke-width="0.22" text-anchor="middle" fill="#1a1a1a">0.571</text>
<text x="959.30" y="542.95" font-size="8.9" stroke="#1a1a1a" stroke-width="0.22" text-anchor="middle" fill="#1a1a1a">0.551</text>
<text x="1020.00" y="542.95" font-size="8.9" stroke="#1a1a1a" stroke-width="0.22" text-anchor="middle" fill="#1a1a1a">0.735</text>
<line x1="667.20" y1="547.60" x2="1050.50" y2="547.60" stroke="#6a6a6a" stroke-width="0.9"/>
<text x="672.30" y="558.75" font-size="9" stroke="#111" stroke-width="0.22" font-weight="bold" fill="#111">JAGACIAK</text>
<text x="778.00" y="558.75" font-size="8.9" stroke="#1a1a1a" stroke-width="0.22" text-anchor="middle" fill="#1a1a1a">0.230</text>
<text x="838.30" y="558.75" font-size="8.9" stroke="#1a1a1a" stroke-width="0.22" text-anchor="middle" fill="#1a1a1a">0.200</text>
<text x="898.70" y="558.75" font-size="8.9" stroke="#1a1a1a" stroke-width="0.22" text-anchor="middle" fill="#1a1a1a">0.693</text>
<text x="959.30" y="558.75" font-size="8.9" stroke="#1a1a1a" stroke-width="0.22" text-anchor="middle" fill="#1a1a1a">0.534</text>
<text x="1020.00" y="558.75" font-size="8.9" stroke="#1a1a1a" stroke-width="0.22" text-anchor="middle" fill="#1a1a1a">0.802</text>
<line x1="667.20" y1="563.30" x2="1050.50" y2="563.30" stroke="#6a6a6a" stroke-width="0.9"/>
<text x="672.30" y="574.45" font-size="9" stroke="#111" stroke-width="0.22" font-weight="bold" fill="#111">PELETEIRO</text>
<text x="778.00" y="574.45" font-size="8.9" stroke="#1a1a1a" stroke-width="0.22" text-anchor="middle" fill="#1a1a1a">0.225</text>
<text x="838.30" y="574.45" font-size="8.9" stroke="#1a1a1a" stroke-width="0.22" text-anchor="middle" fill="#1a1a1a">0.200</text>
<text x="898.70" y="574.45" font-size="8.9" stroke="#1a1a1a" stroke-width="0.22" text-anchor="middle" fill="#1a1a1a">0.681</text>
<text x="959.30" y="574.45" font-size="8.9" stroke="#1a1a1a" stroke-width="0.22" text-anchor="middle" fill="#1a1a1a">0.467</text>
<text x="1020.00" y="574.45" font-size="8.9" stroke="#1a1a1a" stroke-width="0.22" text-anchor="middle" fill="#1a1a1a">0.852</text>
<line x1="667.20" y1="579.00" x2="1050.50" y2="579.00" stroke="#6a6a6a" stroke-width="0.9"/>
<text x="672.30" y="590.10" font-size="9" stroke="#111" stroke-width="0.22" font-weight="bold" fill="#111">RICKETTS</text>
<text x="778.00" y="590.10" font-size="8.9" stroke="#1a1a1a" stroke-width="0.22" text-anchor="middle" fill="#1a1a1a">0.250</text>
<text x="838.30" y="590.10" font-size="8.9" stroke="#1a1a1a" stroke-width="0.22" text-anchor="middle" fill="#1a1a1a">0.215</text>
<text x="898.70" y="590.10" font-size="8.9" stroke="#1a1a1a" stroke-width="0.22" text-anchor="middle" fill="#1a1a1a">0.634</text>
<text x="959.30" y="590.10" font-size="8.9" stroke="#1a1a1a" stroke-width="0.22" text-anchor="middle" fill="#1a1a1a">0.551</text>
<text x="1020.00" y="590.10" font-size="8.9" stroke="#1a1a1a" stroke-width="0.22" text-anchor="middle" fill="#1a1a1a">0.802</text>
<line x1="667.20" y1="594.60" x2="1050.50" y2="594.60" stroke="#6a6a6a" stroke-width="0.9"/>
<text x="672.30" y="605.75" font-size="9" stroke="#111" stroke-width="0.22" font-weight="bold" fill="#111">MAMONA</text>
<text x="778.00" y="605.75" font-size="8.9" stroke="#1a1a1a" stroke-width="0.22" text-anchor="middle" fill="#1a1a1a">0.260</text>
<text x="838.30" y="605.75" font-size="8.9" stroke="#1a1a1a" stroke-width="0.22" text-anchor="middle" fill="#1a1a1a">0.215</text>
<text x="898.70" y="605.75" font-size="8.9" stroke="#1a1a1a" stroke-width="0.22" text-anchor="middle" fill="#1a1a1a">0.616</text>
<text x="959.30" y="605.75" font-size="8.9" stroke="#1a1a1a" stroke-width="0.22" text-anchor="middle" fill="#1a1a1a">0.585</text>
<text x="1020.00" y="605.75" font-size="8.9" stroke="#1a1a1a" stroke-width="0.22" text-anchor="middle" fill="#1a1a1a">0.785</text>
<line x1="667.20" y1="610.30" x2="1050.50" y2="610.30" stroke="#6a6a6a" stroke-width="0.9"/>
<text x="672.30" y="621.45" font-size="9" stroke="#111" stroke-width="0.22" font-weight="bold" fill="#111">WILLIAMS</text>
<text x="778.00" y="621.45" font-size="8.9" stroke="#1a1a1a" stroke-width="0.22" text-anchor="middle" fill="#1a1a1a">0.225</text>
<text x="838.30" y="621.45" font-size="8.9" stroke="#1a1a1a" stroke-width="0.22" text-anchor="middle" fill="#1a1a1a">0.175</text>
<text x="898.70" y="621.45" font-size="8.9" stroke="#1a1a1a" stroke-width="0.22" text-anchor="middle" fill="#1a1a1a">0.688</text>
<text x="959.30" y="621.45" font-size="8.9" stroke="#1a1a1a" stroke-width="0.22" text-anchor="middle" fill="#1a1a1a">0.501</text>
<text x="1020.00" y="621.45" font-size="8.9" stroke="#1a1a1a" stroke-width="0.22" text-anchor="middle" fill="#1a1a1a">0.802</text>
<line x1="667.20" y1="626.00" x2="1050.50" y2="626.00" stroke="#6a6a6a" stroke-width="0.9"/>
<text x="672.30" y="637.15" font-size="9" stroke="#111" stroke-width="0.22" font-weight="bold" fill="#111">COSTA</text>
<text x="778.00" y="637.15" font-size="8.9" stroke="#1a1a1a" stroke-width="0.22" text-anchor="middle" fill="#1a1a1a">0.255</text>
<text x="838.30" y="637.15" font-size="8.9" stroke="#1a1a1a" stroke-width="0.22" text-anchor="middle" fill="#1a1a1a">0.225</text>
<text x="898.70" y="637.15" font-size="8.9" stroke="#1a1a1a" stroke-width="0.22" text-anchor="middle" fill="#1a1a1a">0.658</text>
<text x="959.30" y="637.15" font-size="8.9" stroke="#1a1a1a" stroke-width="0.22" text-anchor="middle" fill="#1a1a1a">0.551</text>
<text x="1020.00" y="637.15" font-size="8.9" stroke="#1a1a1a" stroke-width="0.22" text-anchor="middle" fill="#1a1a1a">0.835</text>
<line x1="667.20" y1="641.70" x2="1050.50" y2="641.70" stroke="#6a6a6a" stroke-width="0.9"/>
<text x="672.30" y="652.65" font-size="9" stroke="#111" stroke-width="0.22" font-weight="bold" fill="#111">ECKHARDT</text>
<text x="778.00" y="652.65" font-size="8.9" stroke="#1a1a1a" stroke-width="0.22" text-anchor="middle" fill="#1a1a1a">0.210</text>
<text x="838.30" y="652.65" font-size="8.9" stroke="#1a1a1a" stroke-width="0.22" text-anchor="middle" fill="#1a1a1a">0.195</text>
<text x="898.70" y="652.65" font-size="8.9" stroke="#1a1a1a" stroke-width="0.22" text-anchor="middle" fill="#1a1a1a">0.583</text>
<text x="959.30" y="652.65" font-size="8.9" stroke="#1a1a1a" stroke-width="0.22" text-anchor="middle" fill="#1a1a1a">0.517</text>
<text x="1020.00" y="652.65" font-size="8.9" stroke="#1a1a1a" stroke-width="0.22" text-anchor="middle" fill="#1a1a1a">0.751</text>
<line x1="667.20" y1="657.00" x2="1050.50" y2="657.00" stroke="#6a6a6a" stroke-width="0.9"/>
<line x1="667.20" y1="457.50" x2="667.20" y2="657.00" stroke="#555" stroke-width="1"/>
<line x1="1050.50" y1="457.50" x2="1050.50" y2="657.00" stroke="#555" stroke-width="1"/>
<text y="864.80" font-size="8.45" fill="#1a1a1a" stroke="#1a1a1a" stroke-width="0.22"><tspan x="158.90">Table</tspan><tspan x="182.21">5.</tspan><tspan x="192.37">Relative</tspan><tspan x="226.01">percentage</tspan><tspan x="271.41">of</tspan><tspan x="281.57">the</tspan><tspan x="296.43">hop,</tspan><tspan x="315.99">step</tspan><tspan x="335.07">and</tspan><tspan x="352.28">jump</tspan><tspan x="373.71">to</tspan><tspan x="383.87">overall</tspan><tspan x="411.87">effective</tspan><tspan x="446.30">distance</tspan><tspan x="480.89">and</tspan><tspan x="498.10">the</tspan><tspan x="512.96">technique</tspan></text>
<text x="158.60" y="875.20" font-size="8.45" stroke="#1a1a1a" stroke-width="0.22" fill="#1a1a1a">employed.</text>
<rect x="158.40" y="879.70" width="391.60" height="22.80" fill="#050505"/>
<line x1="239.60" y1="879.70" x2="239.60" y2="902.50" stroke="#3a3a3a" stroke-width="0.8"/>
<line x1="314.50" y1="879.70" x2="314.50" y2="902.50" stroke="#3a3a3a" stroke-width="0.8"/>
<line x1="388.50" y1="879.70" x2="388.50" y2="902.50" stroke="#3a3a3a" stroke-width="0.8"/>
<line x1="465.50" y1="879.70" x2="465.50" y2="902.50" stroke="#3a3a3a" stroke-width="0.8"/>
<text x="162.60" y="891.80" font-size="9.2" stroke="#fff" stroke-width="0.08" font-weight="bold" fill="#fff">Athlete</text>
<text x="277.00" y="891.80" font-size="9.2" stroke="#fff" stroke-width="0.08" font-weight="bold" text-anchor="middle" fill="#fff">Hop (%)</text>
<text x="351.50" y="891.80" font-size="9.2" stroke="#fff" stroke-width="0.08" font-weight="bold" text-anchor="middle" fill="#fff">Step (%)</text>
<text x="427.00" y="891.80" font-size="9.2" stroke="#fff" stroke-width="0.08" font-weight="bold" text-anchor="middle" fill="#fff">Jump (%)</text>
<text x="507.80" y="891.80" font-size="9.2" stroke="#fff" stroke-width="0.08" font-weight="bold" text-anchor="middle" fill="#fff">Technique</text>
<text x="162.60" y="915.30" font-size="9.2" stroke="#111" stroke-width="0.22" font-weight="bold" fill="#111">TAYLOR</text>
<text x="277.00" y="915.30" font-size="9.1" stroke="#1a1a1a" stroke-width="0.22" text-anchor="middle" fill="#1a1a1a">32.8</text>
<text x="351.50" y="915.30" font-size="9.1" stroke="#1a1a1a" stroke-width="0.22" text-anchor="middle" fill="#1a1a1a">31.3</text>
<text x="427.00" y="915.30" font-size="9.1" stroke="#1a1a1a" stroke-width="0.22" text-anchor="middle" fill="#1a1a1a">36.0</text>
<text x="507.80" y="915.30" font-size="9.1" stroke="#1a1a1a" stroke-width="0.22" text-anchor="middle" fill="#1a1a1a">Jump-dominated</text>
<line x1="158.40" y1="918.42" x2="550.00" y2="918.42" stroke="#777" stroke-width="0.9"/>
<text x="162.60" y="930.52" font-size="9.2" stroke="#111" stroke-width="0.22" font-weight="bold" fill="#111">CLAYE</text>
<text x="277.00" y="930.52" font-size="9.1" stroke="#1a1a1a" stroke-width="0.22" text-anchor="middle" fill="#1a1a1a">34.4</text>
<text x="351.50" y="930.52" font-size="9.1" stroke="#1a1a1a" stroke-width="0.22" text-anchor="middle" fill="#1a1a1a">30.0</text>
<text x="427.00" y="930.52" font-size="9.1" stroke="#1a1a1a" stroke-width="0.22" text-anchor="middle" fill="#1a1a1a">35.5</text>
<text x="507.80" y="930.52" font-size="9.1" stroke="#1a1a1a" stroke-width="0.22" text-anchor="middle" fill="#1a1a1a">Balanced</text>
<line x1="158.40" y1="933.64" x2="550.00" y2="933.64" stroke="#777" stroke-width="0.9"/>
<text x="162.60" y="945.74" font-size="9.2" stroke="#111" stroke-width="0.22" font-weight="bold" fill="#111">ÉVORA</text>
<text x="277.00" y="945.74" font-size="9.1" stroke="#1a1a1a" stroke-width="0.22" text-anchor="middle" fill="#1a1a1a">35.7</text>
<text x="351.50" y="945.74" font-size="9.1" stroke="#1a1a1a" stroke-width="0.22" text-anchor="middle" fill="#1a1a1a">29.9</text>
<text x="427.00" y="945.74" font-size="9.1" stroke="#1a1a1a" stroke-width="0.22" text-anchor="middle" fill="#1a1a1a">34.4</text>
<text x="507.80" y="945.74" font-size="9.1" stroke="#1a1a1a" stroke-width="0.22" text-anchor="middle" fill="#1a1a1a">Balanced</text>
<line x1="158.40" y1="948.86" x2="550.00" y2="948.86" stroke="#777" stroke-width="0.9"/>
<text x="162.60" y="960.96" font-size="9.2" stroke="#111" stroke-width="0.22" font-weight="bold" fill="#111">BENARD</text>
<text x="277.00" y="960.96" font-size="9.1" stroke="#1a1a1a" stroke-width="0.22" text-anchor="middle" fill="#1a1a1a">36.1</text>
<text x="351.50" y="960.96" font-size="9.1" stroke="#1a1a1a" stroke-width="0.22" text-anchor="middle" fill="#1a1a1a">29.7</text>
<text x="427.00" y="960.96" font-size="9.1" stroke="#1a1a1a" stroke-width="0.22" text-anchor="middle" fill="#1a1a1a">34.2</text>
<text x="507.80" y="960.96" font-size="9.1" stroke="#1a1a1a" stroke-width="0.22" text-anchor="middle" fill="#1a1a1a">Balanced</text>
<line x1="158.40" y1="964.08" x2="550.00" y2="964.08" stroke="#777" stroke-width="0.9"/>
<text x="162.60" y="976.18" font-size="9.2" stroke="#111" stroke-width="0.22" font-weight="bold" fill="#111">COPELLO</text>
<text x="277.00" y="976.18" font-size="9.1" stroke="#1a1a1a" stroke-width="0.22" text-anchor="middle" fill="#1a1a1a">34.3</text>
<text x="351.50" y="976.18" font-size="9.1" stroke="#1a1a1a" stroke-width="0.22" text-anchor="middle" fill="#1a1a1a">30.8</text>
<text x="427.00" y="976.18" font-size="9.1" stroke="#1a1a1a" stroke-width="0.22" text-anchor="middle" fill="#1a1a1a">34.9</text>
<text x="507.80" y="976.18" font-size="9.1" stroke="#1a1a1a" stroke-width="0.22" text-anchor="middle" fill="#1a1a1a">Balanced</text>
<line x1="158.40" y1="979.30" x2="550.00" y2="979.30" stroke="#777" stroke-width="0.9"/>
<text x="162.60" y="991.40" font-size="9.2" stroke="#111" stroke-width="0.22" font-weight="bold" fill="#111">NÁPOLES</text>
<text x="277.00" y="991.40" font-size="9.1" stroke="#1a1a1a" stroke-width="0.22" text-anchor="middle" fill="#1a1a1a">34.9</text>
<text x="351.50" y="991.40" font-size="9.1" stroke="#1a1a1a" stroke-width="0.22" text-anchor="middle" fill="#1a1a1a">30.8</text>
<text x="427.00" y="991.40" font-size="9.1" stroke="#1a1a1a" stroke-width="0.22" text-anchor="middle" fill="#1a1a1a">34.3</text>
<text x="507.80" y="991.40" font-size="9.1" stroke="#1a1a1a" stroke-width="0.22" text-anchor="middle" fill="#1a1a1a">Balanced</text>
<line x1="158.40" y1="994.52" x2="550.00" y2="994.52" stroke="#777" stroke-width="0.9"/>
<text x="162.60" y="1006.62" font-size="9.2" stroke="#111" stroke-width="0.22" font-weight="bold" fill="#111">DÍAZ</text>
<text x="277.00" y="1006.62" font-size="9.1" stroke="#1a1a1a" stroke-width="0.22" text-anchor="middle" fill="#1a1a1a">36.4</text>
<text x="351.50" y="1006.62" font-size="9.1" stroke="#1a1a1a" stroke-width="0.22" text-anchor="middle" fill="#1a1a1a">28.2</text>
<text x="427.00" y="1006.62" font-size="9.1" stroke="#1a1a1a" stroke-width="0.22" text-anchor="middle" fill="#1a1a1a">35.4</text>
<text x="507.80" y="1006.62" font-size="9.1" stroke="#1a1a1a" stroke-width="0.22" text-anchor="middle" fill="#1a1a1a">Balanced</text>
<line x1="158.40" y1="1009.74" x2="550.00" y2="1009.74" stroke="#777" stroke-width="0.9"/>
<text x="162.60" y="1021.84" font-size="9.2" stroke="#111" stroke-width="0.22" font-weight="bold" fill="#111">PONTVIANNE</text>
<text x="277.00" y="1021.84" font-size="9.1" stroke="#1a1a1a" stroke-width="0.22" text-anchor="middle" fill="#1a1a1a">34.2</text>
<text x="351.50" y="1021.84" font-size="9.1" stroke="#1a1a1a" stroke-width="0.22" text-anchor="middle" fill="#1a1a1a">29.2</text>
<text x="427.00" y="1021.84" font-size="9.1" stroke="#1a1a1a" stroke-width="0.22" text-anchor="middle" fill="#1a1a1a">36.6</text>
<text x="507.80" y="1021.84" font-size="9.1" stroke="#1a1a1a" stroke-width="0.22" text-anchor="middle" fill="#1a1a1a">Jump-dominated</text>
<line x1="158.40" y1="1024.96" x2="550.00" y2="1024.96" stroke="#777" stroke-width="0.9"/>
<text x="162.60" y="1037.06" font-size="9.2" stroke="#111" stroke-width="0.22" font-weight="bold" fill="#111">WU</text>
<text x="277.00" y="1037.06" font-size="9.1" stroke="#1a1a1a" stroke-width="0.22" text-anchor="middle" fill="#1a1a1a">35.8</text>
<text x="351.50" y="1037.06" font-size="9.1" stroke="#1a1a1a" stroke-width="0.22" text-anchor="middle" fill="#1a1a1a">24.4</text>
<text x="427.00" y="1037.06" font-size="9.1" stroke="#1a1a1a" stroke-width="0.22" text-anchor="middle" fill="#1a1a1a">39.8</text>
<text x="507.80" y="1037.06" font-size="9.1" stroke="#1a1a1a" stroke-width="0.22" text-anchor="middle" fill="#1a1a1a">Jump-dominated</text>
<line x1="158.40" y1="1040.18" x2="550.00" y2="1040.18" stroke="#777" stroke-width="0.9"/>
<text x="162.60" y="1052.28" font-size="9.2" stroke="#111" stroke-width="0.22" font-weight="bold" fill="#111">TORRIJOS</text>
<text x="277.00" y="1052.28" font-size="9.1" stroke="#1a1a1a" stroke-width="0.22" text-anchor="middle" fill="#1a1a1a">35.7</text>
<text x="351.50" y="1052.28" font-size="9.1" stroke="#1a1a1a" stroke-width="0.22" text-anchor="middle" fill="#1a1a1a">29.3</text>
<text x="427.00" y="1052.28" font-size="9.1" stroke="#1a1a1a" stroke-width="0.22" text-anchor="middle" fill="#1a1a1a">35.0</text>
<text x="507.80" y="1052.28" font-size="9.1" stroke="#1a1a1a" stroke-width="0.22" text-anchor="middle" fill="#1a1a1a">Balanced</text>
<line x1="158.40" y1="1055.40" x2="550.00" y2="1055.40" stroke="#777" stroke-width="0.9"/>
<text x="162.60" y="1067.50" font-size="9.2" stroke="#111" stroke-width="0.22" font-weight="bold" fill="#111">DURANONA</text>
<text x="277.00" y="1067.50" font-size="9.1" stroke="#1a1a1a" stroke-width="0.22" text-anchor="middle" fill="#1a1a1a">37.5</text>
<text x="351.50" y="1067.50" font-size="9.1" stroke="#1a1a1a" stroke-width="0.22" text-anchor="middle" fill="#1a1a1a">29.1</text>
<text x="427.00" y="1067.50" font-size="9.1" stroke="#1a1a1a" stroke-width="0.22" text-anchor="middle" fill="#1a1a1a">33.4</text>
<text x="507.80" y="1067.50" font-size="9.1" stroke="#1a1a1a" stroke-width="0.22" text-anchor="middle" fill="#1a1a1a">Hop-dominated</text>
<line x1="158.40" y1="1070.62" x2="550.00" y2="1070.62" stroke="#777" stroke-width="0.9"/>
<text x="162.60" y="1082.72" font-size="9.2" stroke="#111" stroke-width="0.22" font-weight="bold" fill="#111">MARTÍNEZ</text>
<text x="277.00" y="1082.72" font-size="9.1" stroke="#1a1a1a" stroke-width="0.22" text-anchor="middle" fill="#1a1a1a">36.1</text>
<text x="351.50" y="1082.72" font-size="9.1" stroke="#1a1a1a" stroke-width="0.22" text-anchor="middle" fill="#1a1a1a">28.0</text>
<text x="427.00" y="1082.72" font-size="9.1" stroke="#1a1a1a" stroke-width="0.22" text-anchor="middle" fill="#1a1a1a">35.9</text>
<text x="507.80" y="1082.72" font-size="9.1" stroke="#1a1a1a" stroke-width="0.22" text-anchor="middle" fill="#1a1a1a">Balanced</text>
<line x1="158.40" y1="1085.84" x2="550.00" y2="1085.84" stroke="#777" stroke-width="0.9"/>
<line x1="158.40" y1="902.50" x2="158.40" y2="1085.84" stroke="#777" stroke-width="1"/>
<line x1="550.00" y1="902.50" x2="550.00" y2="1085.84" stroke="#777" stroke-width="1"/>
<text x="158.6" y="1094.0" font-size="8.4" font-style="italic" fill="#1a1a1a"><tspan font-weight="bold">Note:</tspan> Percentages might not add up to 100% because of rounding.</text>
<rect x="158.20" y="1103.00" width="391.30" height="229.50" fill="#fff" stroke="#e2e2e2" stroke-width="1"/>
<text x="220.00" y="1115.60" font-size="7.35" stroke="#222" stroke-width="0.22" text-anchor="middle" fill="#222">0%</text>
<text x="251.10" y="1115.60" font-size="7.35" stroke="#222" stroke-width="0.22" text-anchor="middle" fill="#222">10%</text>
<text x="282.20" y="1115.60" font-size="7.35" stroke="#222" stroke-width="0.22" text-anchor="middle" fill="#222">20%</text>
<text x="313.30" y="1115.60" font-size="7.35" stroke="#222" stroke-width="0.22" text-anchor="middle" fill="#222">30%</text>
<text x="344.40" y="1115.60" font-size="7.35" stroke="#222" stroke-width="0.22" text-anchor="middle" fill="#222">40%</text>
<text x="375.50" y="1115.60" font-size="7.35" stroke="#222" stroke-width="0.22" text-anchor="middle" fill="#222">50%</text>
<text x="406.60" y="1115.60" font-size="7.35" stroke="#222" stroke-width="0.22" text-anchor="middle" fill="#222">60%</text>
<text x="437.70" y="1115.60" font-size="7.35" stroke="#222" stroke-width="0.22" text-anchor="middle" fill="#222">70%</text>
<text x="468.80" y="1115.60" font-size="7.35" stroke="#222" stroke-width="0.22" text-anchor="middle" fill="#222">80%</text>
<text x="499.90" y="1115.60" font-size="7.35" stroke="#222" stroke-width="0.22" text-anchor="middle" fill="#222">90%</text>
<text x="531.00" y="1115.60" font-size="7.35" stroke="#222" stroke-width="0.22" text-anchor="middle" fill="#222">100%</text>
<line x1="220.00" y1="1121.30" x2="531.00" y2="1121.30" stroke="#444" stroke-width="0.8"/>
<line x1="220.00" y1="1121.30" x2="220.00" y2="1123.60" stroke="#444" stroke-width="0.8"/>
<line x1="251.10" y1="1121.30" x2="251.10" y2="1123.60" stroke="#444" stroke-width="0.8"/>
<line x1="282.20" y1="1121.30" x2="282.20" y2="1123.60" stroke="#444" stroke-width="0.8"/>
<line x1="313.30" y1="1121.30" x2="313.30" y2="1123.60" stroke="#444" stroke-width="0.8"/>
<line x1="344.40" y1="1121.30" x2="344.40" y2="1123.60" stroke="#444" stroke-width="0.8"/>
<line x1="375.50" y1="1121.30" x2="375.50" y2="1123.60" stroke="#444" stroke-width="0.8"/>
<line x1="406.60" y1="1121.30" x2="406.60" y2="1123.60" stroke="#444" stroke-width="0.8"/>
<line x1="437.70" y1="1121.30" x2="437.70" y2="1123.60" stroke="#444" stroke-width="0.8"/>
<line x1="468.80" y1="1121.30" x2="468.80" y2="1123.60" stroke="#444" stroke-width="0.8"/>
<line x1="499.90" y1="1121.30" x2="499.90" y2="1123.60" stroke="#444" stroke-width="0.8"/>
<line x1="531.00" y1="1121.30" x2="531.00" y2="1123.60" stroke="#444" stroke-width="0.8"/>
<rect x="220.00" y="1124.20" width="102.01" height="9.70" fill="#4767b2"/>
<rect x="322.01" y="1124.20" width="97.34" height="9.70" fill="#e82226"/>
<rect x="419.35" y="1124.20" width="111.65" height="9.70" fill="#a4a4a4"/>
<text x="271.00" y="1131.65" font-size="7.4" stroke="#fff" stroke-width="0.08" text-anchor="middle" fill="#fff">5.83 m</text>
<text x="370.68" y="1131.65" font-size="7.4" stroke="#fff" stroke-width="0.08" text-anchor="middle" fill="#fff">5.56 m</text>
<text x="475.18" y="1131.65" font-size="7.4" stroke="#fff" stroke-width="0.08" text-anchor="middle" fill="#fff">6.40 m</text>
<text x="212.50" y="1131.75" font-size="7.45" stroke="#111" stroke-width="0.22" font-weight="bold" text-anchor="end" fill="#111">TAYLOR</text>
<rect x="220.00" y="1139.53" width="106.98" height="9.70" fill="#4767b2"/>
<rect x="326.98" y="1139.53" width="93.30" height="9.70" fill="#e82226"/>
<rect x="420.28" y="1139.53" width="110.72" height="9.70" fill="#a4a4a4"/>
<text x="273.49" y="1146.98" font-size="7.4" stroke="#fff" stroke-width="0.08" text-anchor="middle" fill="#fff">6.11 m</text>
<text x="373.63" y="1146.98" font-size="7.4" stroke="#fff" stroke-width="0.08" text-anchor="middle" fill="#fff">5.33 m</text>
<text x="475.64" y="1146.98" font-size="7.4" stroke="#fff" stroke-width="0.08" text-anchor="middle" fill="#fff">6.30 m</text>
<text x="212.50" y="1147.08" font-size="7.45" stroke="#111" stroke-width="0.22" font-weight="bold" text-anchor="end" fill="#111">CLAYE</text>
<rect x="220.00" y="1154.86" width="111.03" height="9.70" fill="#4767b2"/>
<rect x="331.03" y="1154.86" width="92.99" height="9.70" fill="#e82226"/>
<rect x="424.02" y="1154.86" width="106.98" height="9.70" fill="#a4a4a4"/>
<text x="275.51" y="1162.31" font-size="7.4" stroke="#fff" stroke-width="0.08" text-anchor="middle" fill="#fff">6.15 m</text>
<text x="377.52" y="1162.31" font-size="7.4" stroke="#fff" stroke-width="0.08" text-anchor="middle" fill="#fff">5.14 m</text>
<text x="477.51" y="1162.31" font-size="7.4" stroke="#fff" stroke-width="0.08" text-anchor="middle" fill="#fff">5.92 m</text>
<text x="212.50" y="1162.41" font-size="7.45" stroke="#111" stroke-width="0.22" font-weight="bold" text-anchor="end" fill="#111">ÉVORA</text>
<rect x="220.00" y="1170.19" width="112.27" height="9.70" fill="#4767b2"/>
<rect x="332.27" y="1170.19" width="92.37" height="9.70" fill="#e82226"/>
<rect x="424.64" y="1170.19" width="106.36" height="9.70" fill="#a4a4a4"/>
<text x="276.14" y="1177.64" font-size="7.4" stroke="#fff" stroke-width="0.08" text-anchor="middle" fill="#fff">6.22 m</text>
<text x="378.45" y="1177.64" font-size="7.4" stroke="#fff" stroke-width="0.08" text-anchor="middle" fill="#fff">5.11 m</text>
<text x="477.82" y="1177.64" font-size="7.4" stroke="#fff" stroke-width="0.08" text-anchor="middle" fill="#fff">5.88 m</text>
<text x="212.50" y="1177.74" font-size="7.45" stroke="#111" stroke-width="0.22" font-weight="bold" text-anchor="end" fill="#111">BENARD</text>
<rect x="220.00" y="1185.52" width="106.67" height="9.70" fill="#4767b2"/>
<rect x="326.67" y="1185.52" width="95.79" height="9.70" fill="#e82226"/>
<rect x="422.46" y="1185.52" width="108.54" height="9.70" fill="#a4a4a4"/>
<text x="273.34" y="1192.97" font-size="7.4" stroke="#fff" stroke-width="0.08" text-anchor="middle" fill="#fff">5.89 m</text>
<text x="374.57" y="1192.97" font-size="7.4" stroke="#fff" stroke-width="0.08" text-anchor="middle" fill="#fff">5.29 m</text>
<text x="476.73" y="1192.97" font-size="7.4" stroke="#fff" stroke-width="0.08" text-anchor="middle" fill="#fff">6.00 m</text>
<text x="212.50" y="1193.07" font-size="7.45" stroke="#111" stroke-width="0.22" font-weight="bold" text-anchor="end" fill="#111">COPELLO</text>
<rect x="220.00" y="1200.85" width="108.54" height="9.70" fill="#4767b2"/>
<rect x="328.54" y="1200.85" width="95.79" height="9.70" fill="#e82226"/>
<rect x="424.33" y="1200.85" width="106.67" height="9.70" fill="#a4a4a4"/>
<text x="274.27" y="1208.30" font-size="7.4" stroke="#fff" stroke-width="0.08" text-anchor="middle" fill="#fff">6.00 m</text>
<text x="376.43" y="1208.30" font-size="7.4" stroke="#fff" stroke-width="0.08" text-anchor="middle" fill="#fff">5.28 m</text>
<text x="477.66" y="1208.30" font-size="7.4" stroke="#fff" stroke-width="0.08" text-anchor="middle" fill="#fff">5.89 m</text>
<text x="212.50" y="1208.40" font-size="7.45" stroke="#111" stroke-width="0.22" font-weight="bold" text-anchor="end" fill="#111">NÁPOLES</text>
<rect x="220.00" y="1216.18" width="113.20" height="9.70" fill="#4767b2"/>
<rect x="333.20" y="1216.18" width="87.70" height="9.70" fill="#e82226"/>
<rect x="420.91" y="1216.18" width="110.09" height="9.70" fill="#a4a4a4"/>
<text x="276.60" y="1223.63" font-size="7.4" stroke="#fff" stroke-width="0.08" text-anchor="middle" fill="#fff">6.25 m</text>
<text x="377.05" y="1223.63" font-size="7.4" stroke="#fff" stroke-width="0.08" text-anchor="middle" fill="#fff">4.83 m</text>
<text x="475.95" y="1223.63" font-size="7.4" stroke="#fff" stroke-width="0.08" text-anchor="middle" fill="#fff">6.07 m</text>
<text x="212.50" y="1223.73" font-size="7.45" stroke="#111" stroke-width="0.22" font-weight="bold" text-anchor="end" fill="#111">DÍAZ</text>
<rect x="220.00" y="1231.51" width="106.36" height="9.70" fill="#4767b2"/>
<rect x="326.36" y="1231.51" width="90.81" height="9.70" fill="#e82226"/>
<rect x="417.17" y="1231.51" width="113.83" height="9.70" fill="#a4a4a4"/>
<text x="273.18" y="1238.96" font-size="7.4" stroke="#fff" stroke-width="0.08" text-anchor="middle" fill="#fff">5.80 m</text>
<text x="371.77" y="1238.96" font-size="7.4" stroke="#fff" stroke-width="0.08" text-anchor="middle" fill="#fff">4.94 m</text>
<text x="474.09" y="1238.96" font-size="7.4" stroke="#fff" stroke-width="0.08" text-anchor="middle" fill="#fff">6.20 m</text>
<text x="212.50" y="1239.06" font-size="7.45" stroke="#111" stroke-width="0.22" font-weight="bold" text-anchor="end" fill="#111">PONTVIANNE</text>
<rect x="220.00" y="1246.84" width="111.34" height="9.70" fill="#4767b2"/>
<rect x="331.34" y="1246.84" width="75.88" height="9.70" fill="#e82226"/>
<rect x="407.22" y="1246.84" width="123.78" height="9.70" fill="#a4a4a4"/>
<text x="275.67" y="1254.29" font-size="7.4" stroke="#fff" stroke-width="0.08" text-anchor="middle" fill="#fff">5.99 m</text>
<text x="369.28" y="1254.29" font-size="7.4" stroke="#fff" stroke-width="0.08" text-anchor="middle" fill="#fff">4.09 m</text>
<text x="469.11" y="1254.29" font-size="7.4" stroke="#fff" stroke-width="0.08" text-anchor="middle" fill="#fff">6.66 m</text>
<text x="212.50" y="1254.39" font-size="7.45" stroke="#111" stroke-width="0.22" font-weight="bold" text-anchor="end" fill="#111">WU</text>
<rect x="220.00" y="1262.17" width="111.03" height="9.70" fill="#4767b2"/>
<rect x="331.03" y="1262.17" width="91.12" height="9.70" fill="#e82226"/>
<rect x="422.15" y="1262.17" width="108.85" height="9.70" fill="#a4a4a4"/>
<text x="275.51" y="1269.62" font-size="7.4" stroke="#fff" stroke-width="0.08" text-anchor="middle" fill="#fff">5.94 m</text>
<text x="376.59" y="1269.62" font-size="7.4" stroke="#fff" stroke-width="0.08" text-anchor="middle" fill="#fff">4.88 m</text>
<text x="476.57" y="1269.62" font-size="7.4" stroke="#fff" stroke-width="0.08" text-anchor="middle" fill="#fff">5.83 m</text>
<text x="212.50" y="1269.72" font-size="7.45" stroke="#111" stroke-width="0.22" font-weight="bold" text-anchor="end" fill="#111">TORRIJOS</text>
<rect x="220.00" y="1277.50" width="116.62" height="9.70" fill="#4767b2"/>
<rect x="336.62" y="1277.50" width="90.50" height="9.70" fill="#e82226"/>
<rect x="427.13" y="1277.50" width="103.87" height="9.70" fill="#a4a4a4"/>
<text x="278.31" y="1284.95" font-size="7.4" stroke="#fff" stroke-width="0.08" text-anchor="middle" fill="#fff">6.15 m</text>
<text x="381.88" y="1284.95" font-size="7.4" stroke="#fff" stroke-width="0.08" text-anchor="middle" fill="#fff">4.78 m</text>
<text x="479.06" y="1284.95" font-size="7.4" stroke="#fff" stroke-width="0.08" text-anchor="middle" fill="#fff">5.49 m</text>
<text x="212.50" y="1285.05" font-size="7.45" stroke="#111" stroke-width="0.22" font-weight="bold" text-anchor="end" fill="#111">DURANONA</text>
<rect x="220.00" y="1292.83" width="112.27" height="9.70" fill="#4767b2"/>
<rect x="332.27" y="1292.83" width="87.08" height="9.70" fill="#e82226"/>
<rect x="419.35" y="1292.83" width="111.65" height="9.70" fill="#a4a4a4"/>
<text x="276.14" y="1300.28" font-size="7.4" stroke="#fff" stroke-width="0.08" text-anchor="middle" fill="#fff">5.93 m</text>
<text x="375.81" y="1300.28" font-size="7.4" stroke="#fff" stroke-width="0.08" text-anchor="middle" fill="#fff">4.60 m</text>
<text x="475.18" y="1300.28" font-size="7.4" stroke="#fff" stroke-width="0.08" text-anchor="middle" fill="#fff">5.89 m</text>
<text x="212.50" y="1300.38" font-size="7.45" stroke="#111" stroke-width="0.22" font-weight="bold" text-anchor="end" fill="#111">MARTÍNEZ</text>
<rect x="316.30" y="1319.40" width="3.60" height="3.60" fill="#4767b2"/>
<text x="320.80" y="1324.00" font-size="7.4" stroke="#222" stroke-width="0.22" fill="#222">Hop</text>
<rect x="341.60" y="1319.40" width="3.60" height="3.60" fill="#e82226"/>
<text x="346.20" y="1324.00" font-size="7.4" stroke="#222" stroke-width="0.22" fill="#222">Step</text>
<rect x="371.00" y="1319.40" width="3.60" height="3.60" fill="#a4a4a4"/>
<text x="375.80" y="1324.00" font-size="7.4" stroke="#222" stroke-width="0.22" fill="#222">Jump</text>
<text y="1344.40" font-size="8.1" fill="#1a1a1a" stroke="#1a1a1a" stroke-width="0.22"><tspan x="157.90">Figure</tspan><tspan x="183.91">4.</tspan><tspan x="193.71">Relative</tspan><tspan x="226.03">percentage</tspan><tspan x="269.61">of</tspan><tspan x="279.41">hop,</tspan><tspan x="298.22">step</tspan><tspan x="316.58">and</tspan><tspan x="333.15">jump</tspan><tspan x="353.75">lengths</tspan><tspan x="382.92">(relative</tspan><tspan x="414.78">to</tspan><tspan x="424.59">effective</tspan><tspan x="457.65">distance)</tspan><tspan x="493.57">along</tspan><tspan x="516.44">with</tspan><tspan x="533.89">step</tspan></text>
<rect x="654.70" y="850.90" width="391.60" height="223.00" fill="#fff" stroke="#e6e6e6" stroke-width="1"/>
<text x="723.30" y="1001.30" font-size="7.45" stroke="#1a1a1a" stroke-width="0.22" text-anchor="end" fill="#1a1a1a">6.00</text>
<text x="723.30" y="987.51" font-size="7.45" stroke="#1a1a1a" stroke-width="0.22" text-anchor="end" fill="#1a1a1a">6.50</text>
<text x="723.30" y="973.72" font-size="7.45" stroke="#1a1a1a" stroke-width="0.22" text-anchor="end" fill="#1a1a1a">7.00</text>
<text x="723.30" y="959.93" font-size="7.45" stroke="#1a1a1a" stroke-width="0.22" text-anchor="end" fill="#1a1a1a">7.50</text>
<text x="723.30" y="946.14" font-size="7.45" stroke="#1a1a1a" stroke-width="0.22" text-anchor="end" fill="#1a1a1a">8.00</text>
<text x="723.30" y="932.35" font-size="7.45" stroke="#1a1a1a" stroke-width="0.22" text-anchor="end" fill="#1a1a1a">8.50</text>
<text x="723.30" y="918.56" font-size="7.45" stroke="#1a1a1a" stroke-width="0.22" text-anchor="end" fill="#1a1a1a">9.00</text>
<text x="723.30" y="904.77" font-size="7.45" stroke="#1a1a1a" stroke-width="0.22" text-anchor="end" fill="#1a1a1a">9.50</text>
<text x="723.30" y="890.98" font-size="7.45" stroke="#1a1a1a" stroke-width="0.22" text-anchor="end" fill="#1a1a1a">10.00</text>
<text x="723.30" y="877.19" font-size="7.45" stroke="#1a1a1a" stroke-width="0.22" text-anchor="end" fill="#1a1a1a">10.50</text>
<text x="723.30" y="863.40" font-size="7.45" stroke="#1a1a1a" stroke-width="0.22" text-anchor="end" fill="#1a1a1a">11.00</text>
<line x1="729.70" y1="860.70" x2="729.70" y2="998.60" stroke="#d6d6d6" stroke-width="0.9"/>
<text x="694.00" y="947.80" font-size="8.5" stroke="#111" stroke-width="0.22" font-weight="bold" text-anchor="middle" fill="#111" transform="rotate(-90 694.00 947.80)">Velocity (m/s)</text>
<line x1="729.70" y1="998.60" x2="1036.70" y2="998.60" stroke="#d0d0d0" stroke-width="0.9"/>
<line x1="729.70" y1="998.60" x2="729.70" y2="1070.00" stroke="#dadada" stroke-width="0.8"/>
<line x1="791.10" y1="998.60" x2="791.10" y2="1070.00" stroke="#dadada" stroke-width="0.8"/>
<line x1="852.50" y1="998.60" x2="852.50" y2="1070.00" stroke="#dadada" stroke-width="0.8"/>
<line x1="913.90" y1="998.60" x2="913.90" y2="1070.00" stroke="#dadada" stroke-width="0.8"/>
<line x1="975.30" y1="998.60" x2="975.30" y2="1070.00" stroke="#dadada" stroke-width="0.8"/>
<line x1="1036.70" y1="998.60" x2="1036.70" y2="1070.00" stroke="#dadada" stroke-width="0.8"/>
<line x1="669.20" y1="1008.80" x2="1036.70" y2="1008.80" stroke="#dadada" stroke-width="0.8"/>
<line x1="669.20" y1="1019.00" x2="1036.70" y2="1019.00" stroke="#dadada" stroke-width="0.8"/>
<line x1="669.20" y1="1029.20" x2="1036.70" y2="1029.20" stroke="#dadada" stroke-width="0.8"/>
<line x1="669.20" y1="1039.40" x2="1036.70" y2="1039.40" stroke="#dadada" stroke-width="0.8"/>
<line x1="669.20" y1="1049.60" x2="1036.70" y2="1049.60" stroke="#dadada" stroke-width="0.8"/>
<line x1="669.20" y1="1059.80" x2="1036.70" y2="1059.80" stroke="#dadada" stroke-width="0.8"/>
<line x1="669.20" y1="1070.00" x2="1036.70" y2="1070.00" stroke="#dadada" stroke-width="0.8"/>
<line x1="669.20" y1="1008.80" x2="669.20" y2="1070.00" stroke="#dadada" stroke-width="0.8"/>
<text x="760.40" y="1006.10" font-size="6.7" stroke="#222" stroke-width="0.22" text-anchor="middle" fill="#222">2nd last step</text>
<text x="821.80" y="1006.10" font-size="6.7" stroke="#222" stroke-width="0.22" text-anchor="middle" fill="#222">Last step</text>
<text x="883.20" y="1006.10" font-size="6.7" stroke="#222" stroke-width="0.22" text-anchor="middle" fill="#222">Hop</text>
<text x="944.60" y="1006.10" font-size="6.7" stroke="#222" stroke-width="0.22" text-anchor="middle" fill="#222">Step</text>
<text x="1006.00" y="1006.10" font-size="6.7" stroke="#222" stroke-width="0.22" text-anchor="middle" fill="#222">Jump</text>
<path d="M760.40 886.07 L821.80 885.52 L883.20 891.31 L944.60 917.79 L1006.00 982.88" fill="none" stroke="#d9b832" stroke-width="3.4" stroke-linejoin="round"/>
<path d="M760.40 887.45 L821.80 889.66 L883.20 892.97 L944.60 934.06 L1006.00 961.37" fill="none" stroke="#b5b5b5" stroke-width="3.4" stroke-linejoin="round"/>
<path d="M760.40 872.28 L821.80 899.31 L883.20 916.69 L944.60 943.16 L1006.00 978.47" fill="none" stroke="#b8913f" stroke-width="3.4" stroke-linejoin="round"/>
<path d="M760.40 894.90 L821.80 890.76 L883.20 902.07 L944.60 937.37 L1006.00 978.74" fill="none" stroke="#111" stroke-width="1.2" stroke-linejoin="round" stroke-dasharray="1.3 1.3"/>
<path d="M760.40 899.31 L821.80 893.52 L883.20 910.07 L944.60 930.48 L1006.00 978.47" fill="none" stroke="#111" stroke-width="1.6" stroke-linejoin="round" stroke-dasharray="4 2.5"/>
<path d="M760.40 904.28 L821.80 893.52 L883.20 910.90 L944.60 943.44 L1006.00 980.67" fill="none" stroke="#111" stroke-width="1.6" stroke-linejoin="round" stroke-dasharray="4 2.5"/>
<circle cx="760.40" cy="886.07" r="3.30" fill="#d9b832"/>
<circle cx="821.80" cy="885.52" r="3.30" fill="#d9b832"/>
<circle cx="883.20" cy="891.31" r="3.30" fill="#d9b832"/>
<circle cx="944.60" cy="917.79" r="3.30" fill="#d9b832"/>
<circle cx="1006.00" cy="982.88" r="3.30" fill="#d9b832"/>
<circle cx="760.40" cy="887.45" r="3.30" fill="#b5b5b5"/>
<circle cx="821.80" cy="889.66" r="3.30" fill="#b5b5b5"/>
<circle cx="883.20" cy="892.97" r="3.30" fill="#b5b5b5"/>
<circle cx="944.60" cy="934.06" r="3.30" fill="#b5b5b5"/>
<circle cx="1006.00" cy="961.37" r="3.30" fill="#b5b5b5"/>
<circle cx="760.40" cy="872.28" r="3.30" fill="#b8913f"/>
<circle cx="821.80" cy="899.31" r="3.30" fill="#b8913f"/>
<circle cx="883.20" cy="916.69" r="3.30" fill="#b8913f"/>
<circle cx="944.60" cy="943.16" r="3.30" fill="#b8913f"/>
<circle cx="1006.00" cy="978.47" r="3.30" fill="#b8913f"/>
<path d="M758.20 902.08 L762.60 906.48 M762.60 902.08 L758.20 906.48" stroke="#111" stroke-width="1.3"/>
<path d="M819.60 891.32 L824.00 895.72 M824.00 891.32 L819.60 895.72" stroke="#111" stroke-width="1.3"/>
<path d="M881.00 908.70 L885.40 913.10 M885.40 908.70 L881.00 913.10" stroke="#111" stroke-width="1.3"/>
<path d="M942.40 941.24 L946.80 945.64 M946.80 941.24 L942.40 945.64" stroke="#111" stroke-width="1.3"/>
<path d="M1003.80 978.47 L1008.20 982.87 M1008.20 978.47 L1003.80 982.87" stroke="#111" stroke-width="1.3"/>
<path d="M671.50 1013.90 L693.60 1013.90" stroke="#d9b832" stroke-width="2.4"/>
<circle cx="682.55" cy="1013.90" r="1.98" fill="#d9b832"/>
<text x="695.20" y="1016.40" font-size="7.0" stroke="#222" stroke-width="0.22" fill="#222">TAYLOR</text>
<text x="760.40" y="1016.40" font-size="6.7" stroke="#222" stroke-width="0.22" text-anchor="middle" fill="#222">10.08</text>
<text x="821.80" y="1016.40" font-size="6.7" stroke="#222" stroke-width="0.22" text-anchor="middle" fill="#222">10.10</text>
<text x="883.20" y="1016.40" font-size="6.7" stroke="#222" stroke-width="0.22" text-anchor="middle" fill="#222">9.89</text>
<text x="944.60" y="1016.40" font-size="6.7" stroke="#222" stroke-width="0.22" text-anchor="middle" fill="#222">8.93</text>
<text x="1006.00" y="1016.40" font-size="6.7" stroke="#222" stroke-width="0.22" text-anchor="middle" fill="#222">6.57</text>
<path d="M671.50 1024.10 L693.60 1024.10" stroke="#b5b5b5" stroke-width="2.4"/>
<circle cx="682.55" cy="1024.10" r="1.98" fill="#b5b5b5"/>
<text x="695.20" y="1026.60" font-size="7.0" stroke="#222" stroke-width="0.22" fill="#222">CLAYE</text>
<text x="760.40" y="1026.60" font-size="6.7" stroke="#222" stroke-width="0.22" text-anchor="middle" fill="#222">10.03</text>
<text x="821.80" y="1026.60" font-size="6.7" stroke="#222" stroke-width="0.22" text-anchor="middle" fill="#222">9.95</text>
<text x="883.20" y="1026.60" font-size="6.7" stroke="#222" stroke-width="0.22" text-anchor="middle" fill="#222">9.83</text>
<text x="944.60" y="1026.60" font-size="6.7" stroke="#222" stroke-width="0.22" text-anchor="middle" fill="#222">8.34</text>
<text x="1006.00" y="1026.60" font-size="6.7" stroke="#222" stroke-width="0.22" text-anchor="middle" fill="#222">7.35</text>
<path d="M671.50 1034.30 L693.60 1034.30" stroke="#b8913f" stroke-width="2.4"/>
<circle cx="682.55" cy="1034.30" r="1.98" fill="#b8913f"/>
<text x="695.20" y="1036.80" font-size="7.0" stroke="#222" stroke-width="0.22" fill="#222">ÉVORA</text>
<text x="760.40" y="1036.80" font-size="6.7" stroke="#222" stroke-width="0.22" text-anchor="middle" fill="#222">10.58</text>
<text x="821.80" y="1036.80" font-size="6.7" stroke="#222" stroke-width="0.22" text-anchor="middle" fill="#222">9.60</text>
<text x="883.20" y="1036.80" font-size="6.7" stroke="#222" stroke-width="0.22" text-anchor="middle" fill="#222">8.97</text>
<text x="944.60" y="1036.80" font-size="6.7" stroke="#222" stroke-width="0.22" text-anchor="middle" fill="#222">8.01</text>
<text x="1006.00" y="1036.80" font-size="6.7" stroke="#222" stroke-width="0.22" text-anchor="middle" fill="#222">6.73</text>
<path d="M671.50 1044.50 L693.60 1044.50" stroke="#111" stroke-width="1.2" stroke-dasharray="1.1 1.1"/>
<text x="695.20" y="1047.00" font-size="7.0" stroke="#222" stroke-width="0.22" fill="#222">BENARD</text>
<text x="760.40" y="1047.00" font-size="6.7" stroke="#222" stroke-width="0.22" text-anchor="middle" fill="#222">9.76</text>
<text x="821.80" y="1047.00" font-size="6.7" stroke="#222" stroke-width="0.22" text-anchor="middle" fill="#222">9.91</text>
<text x="883.20" y="1047.00" font-size="6.7" stroke="#222" stroke-width="0.22" text-anchor="middle" fill="#222">9.50</text>
<text x="944.60" y="1047.00" font-size="6.7" stroke="#222" stroke-width="0.22" text-anchor="middle" fill="#222">8.22</text>
<text x="1006.00" y="1047.00" font-size="6.7" stroke="#222" stroke-width="0.22" text-anchor="middle" fill="#222">6.72</text>
<path d="M671.50 1054.70 L693.60 1054.70" stroke="#111" stroke-width="1.6" stroke-dasharray="3.6 2.2"/>
<text x="695.20" y="1057.20" font-size="7.0" stroke="#222" stroke-width="0.22" fill="#222">COPELLO</text>
<text x="760.40" y="1057.20" font-size="6.7" stroke="#222" stroke-width="0.22" text-anchor="middle" fill="#222">9.60</text>
<text x="821.80" y="1057.20" font-size="6.7" stroke="#222" stroke-width="0.22" text-anchor="middle" fill="#222">9.81</text>
<text x="883.20" y="1057.20" font-size="6.7" stroke="#222" stroke-width="0.22" text-anchor="middle" fill="#222">9.21</text>
<text x="944.60" y="1057.20" font-size="6.7" stroke="#222" stroke-width="0.22" text-anchor="middle" fill="#222">8.47</text>
<text x="1006.00" y="1057.20" font-size="6.7" stroke="#222" stroke-width="0.22" text-anchor="middle" fill="#222">6.73</text>
<path d="M671.50 1064.90 L693.60 1064.90" stroke="#111" stroke-width="1.6" stroke-dasharray="3.6 2.2"/>
<path d="M681.23 1063.58 L683.87 1066.22 M683.87 1063.58 L681.23 1066.22" stroke="#111" stroke-width="1.3"/>
<text x="695.20" y="1067.40" font-size="7.0" stroke="#222" stroke-width="0.22" fill="#222">NÁPOLES</text>
<text x="760.40" y="1067.40" font-size="6.7" stroke="#222" stroke-width="0.22" text-anchor="middle" fill="#222">9.42</text>
<text x="821.80" y="1067.40" font-size="6.7" stroke="#222" stroke-width="0.22" text-anchor="middle" fill="#222">9.81</text>
<text x="883.20" y="1067.40" font-size="6.7" stroke="#222" stroke-width="0.22" text-anchor="middle" fill="#222">9.18</text>
<text x="944.60" y="1067.40" font-size="6.7" stroke="#222" stroke-width="0.22" text-anchor="middle" fill="#222">8.00</text>
<text x="1006.00" y="1067.40" font-size="6.7" stroke="#222" stroke-width="0.22" text-anchor="middle" fill="#222">6.65</text>
<text y="1084.60" font-size="8.5" fill="#1a1a1a" stroke="#1a1a1a" stroke-width="0.22"><tspan x="655.10">Figure</tspan><tspan x="681.81">5.</tspan><tspan x="691.51">Change</tspan><tspan x="723.90">in</tspan><tspan x="733.13">horizontal</tspan><tspan x="772.59">velocity</tspan><tspan x="803.55">of</tspan><tspan x="813.25">the</tspan><tspan x="827.68">two</tspan><tspan x="843.53">steps</tspan><tspan x="866.46">before</tspan><tspan x="893.17">the</tspan><tspan x="907.60">take-off</tspan><tspan x="938.41">board</tspan><tspan x="962.76">and</tspan><tspan x="979.55">the</tspan><tspan x="993.98">hop,</tspan><tspan x="1013.14">step</tspan><tspan x="1031.82">and</tspan></text>
<text x="655.10" y="1094.00" font-size="8.5" stroke="#1a1a1a" stroke-width="0.22" fill="#1a1a1a">jump for the top 6 finishers.</text>
<rect x="655.50" y="1103.00" width="392.50" height="223.00" fill="#fff" stroke="#e6e6e6" stroke-width="1"/>
<text x="730.80" y="1255.00" font-size="7.45" stroke="#1a1a1a" stroke-width="0.22" text-anchor="end" fill="#1a1a1a">6.00</text>
<text x="730.80" y="1240.57" font-size="7.45" stroke="#1a1a1a" stroke-width="0.22" text-anchor="end" fill="#1a1a1a">6.50</text>
<text x="730.80" y="1226.14" font-size="7.45" stroke="#1a1a1a" stroke-width="0.22" text-anchor="end" fill="#1a1a1a">7.00</text>
<text x="730.80" y="1211.71" font-size="7.45" stroke="#1a1a1a" stroke-width="0.22" text-anchor="end" fill="#1a1a1a">7.50</text>
<text x="730.80" y="1197.28" font-size="7.45" stroke="#1a1a1a" stroke-width="0.22" text-anchor="end" fill="#1a1a1a">8.00</text>
<text x="730.80" y="1182.85" font-size="7.45" stroke="#1a1a1a" stroke-width="0.22" text-anchor="end" fill="#1a1a1a">8.50</text>
<text x="730.80" y="1168.42" font-size="7.45" stroke="#1a1a1a" stroke-width="0.22" text-anchor="end" fill="#1a1a1a">9.00</text>
<text x="730.80" y="1153.99" font-size="7.45" stroke="#1a1a1a" stroke-width="0.22" text-anchor="end" fill="#1a1a1a">9.50</text>
<text x="730.80" y="1139.56" font-size="7.45" stroke="#1a1a1a" stroke-width="0.22" text-anchor="end" fill="#1a1a1a">10.00</text>
<text x="730.80" y="1125.13" font-size="7.45" stroke="#1a1a1a" stroke-width="0.22" text-anchor="end" fill="#1a1a1a">10.50</text>
<text x="730.80" y="1110.70" font-size="7.45" stroke="#1a1a1a" stroke-width="0.22" text-anchor="end" fill="#1a1a1a">11.00</text>
<line x1="737.50" y1="1108.00" x2="737.50" y2="1252.30" stroke="#d6d6d6" stroke-width="0.9"/>
<text x="692.30" y="1187.20" font-size="8.5" stroke="#111" stroke-width="0.22" font-weight="bold" text-anchor="middle" fill="#111" transform="rotate(-90 692.30 1187.20)">Velocity (m/s)</text>
<line x1="737.50" y1="1252.30" x2="1046.30" y2="1252.30" stroke="#d0d0d0" stroke-width="0.9"/>
<line x1="737.50" y1="1252.30" x2="737.50" y2="1323.63" stroke="#dadada" stroke-width="0.8"/>
<line x1="799.26" y1="1252.30" x2="799.26" y2="1323.63" stroke="#dadada" stroke-width="0.8"/>
<line x1="861.02" y1="1252.30" x2="861.02" y2="1323.63" stroke="#dadada" stroke-width="0.8"/>
<line x1="922.78" y1="1252.30" x2="922.78" y2="1323.63" stroke="#dadada" stroke-width="0.8"/>
<line x1="984.54" y1="1252.30" x2="984.54" y2="1323.63" stroke="#dadada" stroke-width="0.8"/>
<line x1="1046.30" y1="1252.30" x2="1046.30" y2="1323.63" stroke="#dadada" stroke-width="0.8"/>
<line x1="664.70" y1="1262.49" x2="1046.30" y2="1262.49" stroke="#dadada" stroke-width="0.8"/>
<line x1="664.70" y1="1272.68" x2="1046.30" y2="1272.68" stroke="#dadada" stroke-width="0.8"/>
<line x1="664.70" y1="1282.87" x2="1046.30" y2="1282.87" stroke="#dadada" stroke-width="0.8"/>
<line x1="664.70" y1="1293.06" x2="1046.30" y2="1293.06" stroke="#dadada" stroke-width="0.8"/>
<line x1="664.70" y1="1303.25" x2="1046.30" y2="1303.25" stroke="#dadada" stroke-width="0.8"/>
<line x1="664.70" y1="1313.44" x2="1046.30" y2="1313.44" stroke="#dadada" stroke-width="0.8"/>
<line x1="664.70" y1="1323.63" x2="1046.30" y2="1323.63" stroke="#dadada" stroke-width="0.8"/>
<line x1="664.70" y1="1262.49" x2="664.70" y2="1323.63" stroke="#dadada" stroke-width="0.8"/>
<text x="768.38" y="1259.80" font-size="6.7" stroke="#222" stroke-width="0.22" text-anchor="middle" fill="#222">2nd last step</text>
<text x="830.14" y="1259.80" font-size="6.7" stroke="#222" stroke-width="0.22" text-anchor="middle" fill="#222">Last step</text>
<text x="891.90" y="1259.80" font-size="6.7" stroke="#222" stroke-width="0.22" text-anchor="middle" fill="#222">Hop</text>
<text x="953.66" y="1259.80" font-size="6.7" stroke="#222" stroke-width="0.22" text-anchor="middle" fill="#222">Step</text>
<text x="1015.42" y="1259.80" font-size="6.7" stroke="#222" stroke-width="0.22" text-anchor="middle" fill="#222">Jump</text>
<path d="M768.38 1163.41 L830.14 1151.29 L891.90 1169.47 L953.66 1190.25 L1015.42 1220.27" fill="none" stroke="#e0363c" stroke-width="2.0" stroke-linejoin="round" stroke-dasharray="5 3 1.5 3"/>
<path d="M768.38 1143.21 L830.14 1143.79 L891.90 1160.53 L953.66 1170.34 L1015.42 1202.37" fill="none" stroke="#4c6cb8" stroke-width="2.0" stroke-linejoin="round" stroke-dasharray="8 3 2 3"/>
<path d="M768.38 1120.99 L830.14 1123.87 L891.90 1148.12 L953.66 1147.54 L1015.42 1182.75" fill="none" stroke="#5db649" stroke-width="2.0" stroke-linejoin="round"/>
<path d="M768.38 1151.58 L830.14 1144.08 L891.90 1163.70 L953.66 1186.79 L1015.42 1244.22" fill="none" stroke="#3d3f8e" stroke-width="2.3" stroke-linejoin="round" stroke-dasharray="9 4"/>
<path d="M768.38 1146.10 L830.14 1146.10 L891.90 1159.08 L953.66 1198.33 L1015.42 1226.90" fill="none" stroke="#8b9dbb" stroke-width="2.0" stroke-linejoin="round" stroke-dasharray="9 4"/>
<path d="M768.38 1157.35 L830.14 1154.18 L891.90 1164.57 L953.66 1187.37 L1015.42 1218.53" fill="none" stroke="#2f5a2f" stroke-width="2.3" stroke-linejoin="round" stroke-dasharray="9 4"/>
<path d="M765.38 1163.41 L771.38 1163.41 M768.38 1160.41 L768.38 1166.41" stroke="#e0363c" stroke-width="1.3"/>
<path d="M827.14 1151.29 L833.14 1151.29 M830.14 1148.29 L830.14 1154.29" stroke="#e0363c" stroke-width="1.3"/>
<path d="M888.90 1169.47 L894.90 1169.47 M891.90 1166.47 L891.90 1172.47" stroke="#e0363c" stroke-width="1.3"/>
<path d="M950.66 1190.25 L956.66 1190.25 M953.66 1187.25 L953.66 1193.25" stroke="#e0363c" stroke-width="1.3"/>
<path d="M1012.42 1220.27 L1018.42 1220.27 M1015.42 1217.27 L1015.42 1223.27" stroke="#e0363c" stroke-width="1.3"/>
<path d="M768.38 1116.79 L772.37 1123.93 L764.39 1123.93 Z" fill="#5db649"/>
<path d="M830.14 1119.67 L834.13 1126.81 L826.15 1126.81 Z" fill="#5db649"/>
<path d="M891.90 1143.92 L895.89 1151.06 L887.91 1151.06 Z" fill="#5db649"/>
<path d="M953.66 1143.34 L957.65 1150.48 L949.67 1150.48 Z" fill="#5db649"/>
<path d="M1015.42 1178.55 L1019.41 1185.69 L1011.43 1185.69 Z" fill="#5db649"/>
<path d="M667.50 1267.59 L690.00 1267.59" stroke="#e0363c" stroke-width="2.0" stroke-dasharray="7 3.6 4 5.8 1.7 3"/>
<text x="691.60" y="1270.09" font-size="6.7" stroke="#222" stroke-width="0.22" fill="#222">DÍAZ</text>
<text x="768.38" y="1270.09" font-size="6.7" stroke="#222" stroke-width="0.22" text-anchor="middle" fill="#222">9.08</text>
<text x="830.14" y="1270.09" font-size="6.7" stroke="#222" stroke-width="0.22" text-anchor="middle" fill="#222">9.50</text>
<text x="891.90" y="1270.09" font-size="6.7" stroke="#222" stroke-width="0.22" text-anchor="middle" fill="#222">8.87</text>
<text x="953.66" y="1270.09" font-size="6.7" stroke="#222" stroke-width="0.22" text-anchor="middle" fill="#222">8.15</text>
<text x="1015.42" y="1270.09" font-size="6.7" stroke="#222" stroke-width="0.22" text-anchor="middle" fill="#222">7.11</text>
<path d="M667.50 1277.78 L690.00 1277.78" stroke="#4c6cb8" stroke-width="2.0" stroke-dasharray="6.7 6.3 1.7 6"/>
<text x="691.60" y="1280.28" font-size="6.7" stroke="#222" stroke-width="0.22" fill="#222">PONTVIANNE</text>
<text x="768.38" y="1280.28" font-size="6.7" stroke="#222" stroke-width="0.22" text-anchor="middle" fill="#222">9.78</text>
<text x="830.14" y="1280.28" font-size="6.7" stroke="#222" stroke-width="0.22" text-anchor="middle" fill="#222">9.76</text>
<text x="891.90" y="1280.28" font-size="6.7" stroke="#222" stroke-width="0.22" text-anchor="middle" fill="#222">9.18</text>
<text x="953.66" y="1280.28" font-size="6.7" stroke="#222" stroke-width="0.22" text-anchor="middle" fill="#222">8.84</text>
<text x="1015.42" y="1280.28" font-size="6.7" stroke="#222" stroke-width="0.22" text-anchor="middle" fill="#222">7.73</text>
<path d="M667.50 1287.96 L690.00 1287.96" stroke="#5db649" stroke-width="2.0"/>
<path d="M678.75 1285.44 L681.14 1289.73 L676.36 1289.73 Z" fill="#5db649"/>
<text x="691.60" y="1290.46" font-size="6.7" stroke="#222" stroke-width="0.22" fill="#222">WU</text>
<text x="768.38" y="1290.46" font-size="6.7" stroke="#222" stroke-width="0.22" text-anchor="middle" fill="#222">10.55</text>
<text x="830.14" y="1290.46" font-size="6.7" stroke="#222" stroke-width="0.22" text-anchor="middle" fill="#222">10.45</text>
<text x="891.90" y="1290.46" font-size="6.7" stroke="#222" stroke-width="0.22" text-anchor="middle" fill="#222">9.61</text>
<text x="953.66" y="1290.46" font-size="6.7" stroke="#222" stroke-width="0.22" text-anchor="middle" fill="#222">9.63</text>
<text x="1015.42" y="1290.46" font-size="6.7" stroke="#222" stroke-width="0.22" text-anchor="middle" fill="#222">8.41</text>
<path d="M667.50 1298.15 L690.00 1298.15" stroke="#3d3f8e" stroke-width="2.3" stroke-dasharray="15 5.8 1.7 3"/>
<text x="691.60" y="1300.65" font-size="6.7" stroke="#222" stroke-width="0.22" fill="#222">TORRIJOS</text>
<text x="768.38" y="1300.65" font-size="6.7" stroke="#222" stroke-width="0.22" text-anchor="middle" fill="#222">9.49</text>
<text x="830.14" y="1300.65" font-size="6.7" stroke="#222" stroke-width="0.22" text-anchor="middle" fill="#222">9.75</text>
<text x="891.90" y="1300.65" font-size="6.7" stroke="#222" stroke-width="0.22" text-anchor="middle" fill="#222">9.07</text>
<text x="953.66" y="1300.65" font-size="6.7" stroke="#222" stroke-width="0.22" text-anchor="middle" fill="#222">8.27</text>
<text x="1015.42" y="1300.65" font-size="6.7" stroke="#222" stroke-width="0.22" text-anchor="middle" fill="#222">6.28</text>
<path d="M667.50 1308.35 L690.00 1308.35" stroke="#8b9dbb" stroke-width="2.0" stroke-dasharray="15 5.8 1.7 3"/>
<text x="691.60" y="1310.85" font-size="6.7" stroke="#222" stroke-width="0.22" fill="#222">DURANONA</text>
<text x="768.38" y="1310.85" font-size="6.7" stroke="#222" stroke-width="0.22" text-anchor="middle" fill="#222">9.68</text>
<text x="830.14" y="1310.85" font-size="6.7" stroke="#222" stroke-width="0.22" text-anchor="middle" fill="#222">9.68</text>
<text x="891.90" y="1310.85" font-size="6.7" stroke="#222" stroke-width="0.22" text-anchor="middle" fill="#222">9.23</text>
<text x="953.66" y="1310.85" font-size="6.7" stroke="#222" stroke-width="0.22" text-anchor="middle" fill="#222">7.87</text>
<text x="1015.42" y="1310.85" font-size="6.7" stroke="#222" stroke-width="0.22" text-anchor="middle" fill="#222">6.88</text>
<path d="M667.50 1318.54 L690.00 1318.54" stroke="#2f5a2f" stroke-width="2.3" stroke-dasharray="15 5.8 1.7 3"/>
<text x="691.60" y="1321.04" font-size="6.7" stroke="#222" stroke-width="0.22" fill="#222">MARTÍNEZ</text>
<text x="768.38" y="1321.04" font-size="6.7" stroke="#222" stroke-width="0.22" text-anchor="middle" fill="#222">9.29</text>
<text x="830.14" y="1321.04" font-size="6.7" stroke="#222" stroke-width="0.22" text-anchor="middle" fill="#222">9.40</text>
<text x="891.90" y="1321.04" font-size="6.7" stroke="#222" stroke-width="0.22" text-anchor="middle" fill="#222">9.04</text>
<text x="953.66" y="1321.04" font-size="6.7" stroke="#222" stroke-width="0.22" text-anchor="middle" fill="#222">8.25</text>
<text x="1015.42" y="1321.04" font-size="6.7" stroke="#222" stroke-width="0.22" text-anchor="middle" fill="#222">7.17</text>
<text y="1334.40" font-size="8.5" fill="#1a1a1a" stroke="#1a1a1a" stroke-width="0.22"><tspan x="655.10">Figure</tspan><tspan x="681.81">6.</tspan><tspan x="691.51">Change</tspan><tspan x="723.90">in</tspan><tspan x="733.13">horizontal</tspan><tspan x="772.59">velocity</tspan><tspan x="803.55">of</tspan><tspan x="813.25">the</tspan><tspan x="827.68">two</tspan><tspan x="843.53">steps</tspan><tspan x="866.46">before</tspan><tspan x="893.17">the</tspan><tspan x="907.60">take-off</tspan><tspan x="938.41">board</tspan><tspan x="962.76">and</tspan><tspan x="979.55">the</tspan><tspan x="993.98">hop,</tspan><tspan x="1013.14">step</tspan><tspan x="1031.82">and</tspan></text>
<text x="655.10" y="1343.60" font-size="8.5" stroke="#1a1a1a" stroke-width="0.22" fill="#1a1a1a">jump for the bottom 6 finishers.</text>
</svg>
</body></html>
